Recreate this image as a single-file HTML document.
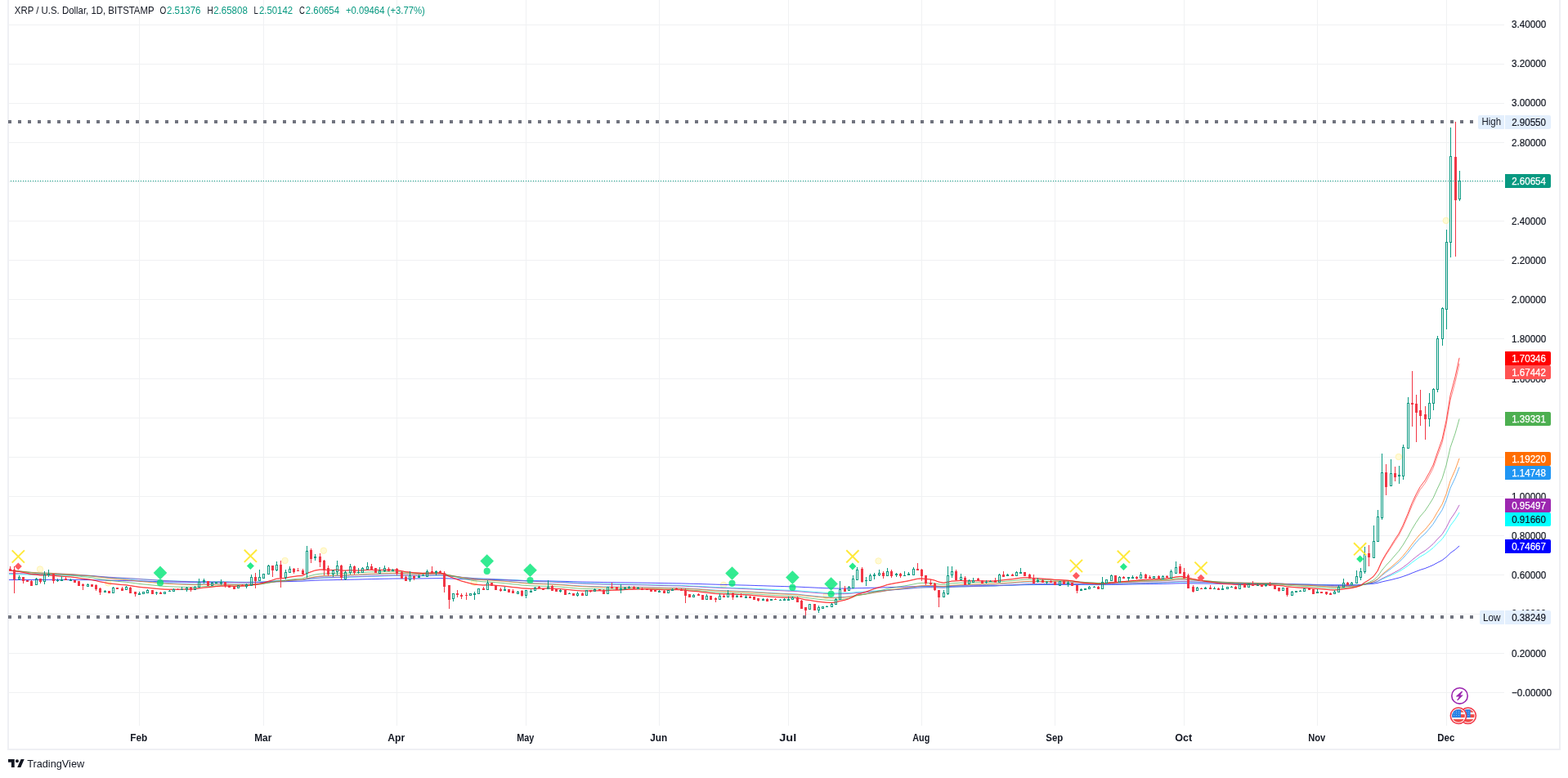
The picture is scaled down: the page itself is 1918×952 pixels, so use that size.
<!DOCTYPE html>
<html><head><meta charset="utf-8"><title>XRP / U.S. Dollar chart</title>
<style>
html,body{margin:0;padding:0;background:#fff;}
body{width:1918px;height:952px;overflow:hidden;position:relative;font-family:"Liberation Sans", Arial, sans-serif;}
.frame{position:absolute;left:9px;top:0;width:1896px;height:916px;border-left:2px solid #eff0f4;border-right:2px solid #eff0f4;border-bottom:2px solid #eff0f4;box-sizing:content-box;}
svg{position:absolute;left:0;top:0;}
svg text{font-family:"Liberation Sans", Arial, sans-serif;}
</style></head><body>
<div class="frame"></div>
<svg width="1918" height="952" viewBox="0 0 1918 952">
<defs><clipPath id="pane"><rect x="11" y="0" width="1829" height="888"/></clipPath></defs>
<g stroke="#f0f1f3" stroke-width="1" shape-rendering="crispEdges"><line x1="11" y1="30.5" x2="1840" y2="30.5"/><line x1="11" y1="78.5" x2="1840" y2="78.5"/><line x1="11" y1="126.5" x2="1840" y2="126.5"/><line x1="11" y1="174.5" x2="1840" y2="174.5"/><line x1="11" y1="222.5" x2="1840" y2="222.5"/><line x1="11" y1="270.5" x2="1840" y2="270.5"/><line x1="11" y1="318.5" x2="1840" y2="318.5"/><line x1="11" y1="366.5" x2="1840" y2="366.5"/><line x1="11" y1="414.5" x2="1840" y2="414.5"/><line x1="11" y1="463.5" x2="1840" y2="463.5"/><line x1="11" y1="511.5" x2="1840" y2="511.5"/><line x1="11" y1="559.5" x2="1840" y2="559.5"/><line x1="11" y1="607.5" x2="1840" y2="607.5"/><line x1="11" y1="655.5" x2="1840" y2="655.5"/><line x1="11" y1="703.5" x2="1840" y2="703.5"/><line x1="11" y1="751.5" x2="1840" y2="751.5"/><line x1="11" y1="799.5" x2="1840" y2="799.5"/><line x1="11" y1="847.5" x2="1840" y2="847.5"/><line x1="170.5" y1="0" x2="170.5" y2="888"/><line x1="322.5" y1="0" x2="322.5" y2="888"/><line x1="485.5" y1="0" x2="485.5" y2="888"/><line x1="643.5" y1="0" x2="643.5" y2="888"/><line x1="806.5" y1="0" x2="806.5" y2="888"/><line x1="964.5" y1="0" x2="964.5" y2="888"/><line x1="1127.5" y1="0" x2="1127.5" y2="888"/><line x1="1290.5" y1="0" x2="1290.5" y2="888"/><line x1="1448.5" y1="0" x2="1448.5" y2="888"/><line x1="1611.5" y1="0" x2="1611.5" y2="888"/><line x1="1769.5" y1="0" x2="1769.5" y2="888"/></g><g clip-path="url(#pane)"><circle cx="49" cy="696.5" r="3.7" fill="#fffad6" stroke="#fff1a8" stroke-opacity="0.8" stroke-width="1"/><circle cx="132.3" cy="713.4" r="3.7" fill="#fffad6" stroke="#fff1a8" stroke-opacity="0.8" stroke-width="1"/><circle cx="348.6" cy="686" r="3.7" fill="#fffad6" stroke="#fff1a8" stroke-opacity="0.8" stroke-width="1"/><circle cx="395.9" cy="673.8" r="3.7" fill="#fffad6" stroke="#fff1a8" stroke-opacity="0.8" stroke-width="1"/><circle cx="579.6" cy="712.9" r="3.7" fill="#fffad6" stroke="#fff1a8" stroke-opacity="0.8" stroke-width="1"/><circle cx="885" cy="715.8" r="3.7" fill="#fffad6" stroke="#fff1a8" stroke-opacity="0.8" stroke-width="1"/><circle cx="1010.6" cy="728.8" r="3.7" fill="#fffad6" stroke="#fff1a8" stroke-opacity="0.8" stroke-width="1"/><circle cx="1074.5" cy="686.4" r="3.7" fill="#fffad6" stroke="#fff1a8" stroke-opacity="0.8" stroke-width="1"/><circle cx="1710.8" cy="559" r="3.7" fill="#fffad6" stroke="#fff1a8" stroke-opacity="0.8" stroke-width="1"/><circle cx="1768.8" cy="269.9" r="3.7" fill="#fffad6" stroke="#fff1a8" stroke-opacity="0.8" stroke-width="1"/></g><g clip-path="url(#pane)" fill="none" stroke-width="1" stroke-linejoin="round" stroke-opacity="0.7"><path d="M7.10,709.63 L12.10,709.51 L17.10,709.50 L23.10,709.46 L28.10,709.46 L33.10,709.48 L38.10,709.54 L44.10,709.53 L49.10,709.54 L54.10,709.48 L59.10,709.41 L65.10,709.42 L70.10,709.42 L75.10,709.41 L80.10,709.41 L86.10,709.41 L91.10,709.43 L96.10,709.49 L101.10,709.56 L107.10,709.61 L112.10,709.68 L117.10,709.79 L122.10,709.93 L128.10,710.06 L133.10,710.21 L138.10,710.29 L143.10,710.39 L149.10,710.50 L154.10,710.58 L159.10,710.72 L165.10,710.87 L170.10,711.02 L175.10,711.15 L180.10,711.26 L186.10,711.41 L191.10,711.54 L196.10,711.69 L201.10,711.81 L207.10,711.92 L212.10,712.01 L217.10,712.10 L222.10,712.19 L228.10,712.26 L233.10,712.35 L238.10,712.40 L243.10,712.40 L249.10,712.38 L254.10,712.41 L259.10,712.42 L264.10,712.42 L270.10,712.41 L275.10,712.45 L280.10,712.50 L286.10,712.57 L291.10,712.61 L296.10,712.64 L301.10,712.67 L307.10,712.60 L312.10,712.57 L317.10,712.51 L322.10,712.41 L328.10,712.20 L333.10,712.05 L338.10,711.84 L343.10,711.78 L349.10,711.67 L354.10,711.51 L359.10,711.38 L364.10,711.25 L370.10,711.16 L375.10,710.78 L380.10,710.50 L385.10,710.21 L391.10,709.98 L396.10,709.85 L401.10,709.78 L407.10,709.66 L412.10,709.49 L417.10,709.46 L422.10,709.37 L428.10,709.21 L433.10,709.12 L438.10,709.03 L443.10,708.89 L449.10,708.73 L454.10,708.61 L459.10,708.52 L464.10,708.41 L470.10,708.28 L475.10,708.19 L480.10,708.07 L485.10,708.00 L491.10,707.99 L496.10,708.01 L501.10,707.98 L506.10,707.96 L512.10,707.93 L517.10,707.89 L522.10,707.81 L528.10,707.73 L533.10,707.64 L538.10,707.58 L543.10,707.67 L549.10,707.92 L554.10,708.10 L559.10,708.29 L564.10,708.49 L570.10,708.69 L575.10,708.87 L580.10,709.04 L585.10,709.15 L591.10,709.27 L596.10,709.31 L601.10,709.38 L606.10,709.50 L612.10,709.62 L617.10,709.74 L622.10,709.88 L627.10,710.03 L633.10,710.16 L638.10,710.34 L643.10,710.46 L649.10,710.58 L654.10,710.67 L659.10,710.75 L664.10,710.85 L670.10,710.92 L675.10,711.03 L680.10,711.15 L685.10,711.26 L691.10,711.42 L696.10,711.56 L701.10,711.72 L706.10,711.87 L712.10,712.02 L717.10,712.13 L722.10,712.24 L727.10,712.33 L733.10,712.42 L738.10,712.55 L743.10,712.61 L748.10,712.67 L754.10,712.76 L759.10,712.83 L764.10,712.89 L769.10,712.93 L775.10,713.01 L780.10,713.06 L785.10,713.14 L791.10,713.22 L796.10,713.32 L801.10,713.41 L806.10,713.51 L812.10,713.62 L817.10,713.70 L822.10,713.77 L827.10,713.85 L833.10,713.93 L838.10,714.07 L843.10,714.22 L848.10,714.36 L854.10,714.49 L859.10,714.67 L864.10,714.82 L869.10,714.99 L875.10,715.17 L880.10,715.31 L885.10,715.45 L890.10,715.56 L896.10,715.70 L901.10,715.83 L906.10,715.98 L912.10,716.12 L917.10,716.26 L922.10,716.42 L927.10,716.60 L933.10,716.76 L938.10,716.94 L943.10,717.10 L948.10,717.27 L954.10,717.43 L959.10,717.59 L964.10,717.74 L969.10,717.87 L975.10,718.05 L980.10,718.30 L985.10,718.57 L990.10,718.78 L996.10,719.05 L1001.10,719.29 L1006.10,719.52 L1011.10,719.74 L1017.10,719.93 L1022.10,720.06 L1027.10,720.08 L1033.10,720.10 L1038.10,720.08 L1043.10,719.96 L1048.10,719.73 L1054.10,719.65 L1059.10,719.54 L1064.10,719.39 L1069.10,719.23 L1075.10,719.05 L1080.10,718.89 L1085.10,718.69 L1090.10,718.55 L1096.10,718.39 L1101.10,718.25 L1106.10,718.10 L1111.10,717.94 L1117.10,717.72 L1122.10,717.52 L1127.10,717.39 L1132.10,717.35 L1138.10,717.31 L1143.10,717.35 L1148.10,717.48 L1154.10,717.56 L1159.10,717.42 L1164.10,717.24 L1169.10,717.16 L1175.10,717.05 L1180.10,717.03 L1185.10,716.97 L1190.10,716.89 L1196.10,716.82 L1201.10,716.79 L1206.10,716.74 L1211.10,716.68 L1217.10,716.63 L1222.10,716.50 L1227.10,716.38 L1232.10,716.25 L1238.10,716.13 L1243.10,715.97 L1248.10,715.82 L1253.10,715.69 L1259.10,715.61 L1264.10,715.58 L1269.10,715.53 L1275.10,715.50 L1280.10,715.46 L1285.10,715.42 L1290.10,715.42 L1296.10,715.37 L1301.10,715.36 L1306.10,715.33 L1311.10,715.34 L1317.10,715.41 L1322.10,715.47 L1327.10,715.51 L1332.10,715.53 L1338.10,715.55 L1343.10,715.59 L1348.10,715.56 L1353.10,715.50 L1359.10,715.38 L1364.10,715.33 L1369.10,715.24 L1374.10,715.16 L1380.10,715.07 L1385.10,714.98 L1390.10,714.90 L1395.10,714.78 L1401.10,714.70 L1406.10,714.63 L1411.10,714.53 L1417.10,714.46 L1422.10,714.37 L1427.10,714.29 L1432.10,714.13 L1438.10,713.93 L1443.10,713.80 L1448.10,713.74 L1453.10,713.79 L1459.10,713.88 L1464.10,713.93 L1469.10,713.99 L1474.10,714.05 L1480.10,714.11 L1485.10,714.16 L1490.10,714.24 L1495.10,714.29 L1501.10,714.33 L1506.10,714.36 L1511.10,714.42 L1516.10,714.43 L1522.10,714.46 L1527.10,714.46 L1532.10,714.48 L1538.10,714.49 L1543.10,714.51 L1548.10,714.52 L1553.10,714.54 L1559.10,714.59 L1564.10,714.66 L1569.10,714.70 L1574.10,714.83 L1580.10,714.92 L1585.10,715.00 L1590.10,715.08 L1595.10,715.13 L1601.10,715.19 L1606.10,715.29 L1611.10,715.38 L1616.10,715.47 L1622.10,715.58 L1627.10,715.69 L1632.10,715.77 L1637.10,715.79 L1643.10,715.77 L1648.10,715.76 L1653.10,715.73 L1659.10,715.63 L1664.10,715.46 L1669.10,715.09 L1674.10,714.75 L1680.10,714.22 L1685.10,713.40 L1690.10,712.06 L1695.10,710.89 L1701.10,709.58 L1706.10,708.32 L1711.10,707.05 L1716.10,705.46 L1722.10,703.35 L1727.10,701.27 L1732.10,699.30 L1737.10,697.39 L1743.10,695.54 L1748.10,693.53 L1753.10,691.37 L1758.10,688.61 L1764.10,685.50 L1769.10,681.62 L1774.10,676.74 L1780.10,672.44 L1785.10,667.94" stroke="#0000ff"/><path d="M7.10,702.66 L12.10,702.57 L17.10,702.67 L23.10,702.74 L28.10,702.88 L33.10,703.04 L38.10,703.29 L44.10,703.38 L49.10,703.54 L54.10,703.54 L59.10,703.50 L65.10,703.64 L70.10,703.76 L75.10,703.86 L80.10,703.97 L86.10,704.07 L91.10,704.22 L96.10,704.44 L101.10,704.68 L107.10,704.88 L112.10,705.11 L117.10,705.42 L122.10,705.78 L128.10,706.13 L133.10,706.49 L138.10,706.74 L143.10,707.00 L149.10,707.29 L154.10,707.50 L159.10,707.85 L165.10,708.21 L170.10,708.56 L175.10,708.87 L180.10,709.13 L186.10,709.47 L191.10,709.77 L196.10,710.09 L201.10,710.37 L207.10,710.61 L212.10,710.82 L217.10,711.03 L222.10,711.22 L228.10,711.38 L233.10,711.57 L238.10,711.70 L243.10,711.72 L249.10,711.69 L254.10,711.77 L259.10,711.79 L264.10,711.79 L270.10,711.80 L275.10,711.89 L280.10,712.00 L286.10,712.15 L291.10,712.23 L296.10,712.31 L301.10,712.36 L307.10,712.24 L312.10,712.18 L317.10,712.07 L322.10,711.87 L328.10,711.48 L333.10,711.19 L338.10,710.79 L343.10,710.69 L349.10,710.48 L354.10,710.20 L359.10,709.97 L364.10,709.74 L370.10,709.58 L375.10,708.87 L380.10,708.35 L385.10,707.81 L391.10,707.40 L396.10,707.19 L401.10,707.10 L407.10,706.92 L412.10,706.63 L417.10,706.62 L422.10,706.50 L428.10,706.24 L433.10,706.12 L438.10,705.99 L443.10,705.78 L449.10,705.53 L454.10,705.34 L459.10,705.25 L464.10,705.09 L470.10,704.90 L475.10,704.77 L480.10,704.61 L485.10,704.54 L491.10,704.59 L496.10,704.70 L501.10,704.69 L506.10,704.73 L512.10,704.74 L517.10,704.72 L522.10,704.61 L528.10,704.51 L533.10,704.41 L538.10,704.34 L543.10,704.59 L549.10,705.14 L554.10,705.55 L559.10,705.98 L564.10,706.44 L570.10,706.87 L575.10,707.26 L580.10,707.64 L585.10,707.89 L591.10,708.15 L596.10,708.26 L601.10,708.41 L606.10,708.67 L612.10,708.93 L617.10,709.17 L622.10,709.46 L627.10,709.77 L633.10,710.04 L638.10,710.39 L643.10,710.63 L649.10,710.87 L654.10,711.04 L659.10,711.20 L664.10,711.39 L670.10,711.51 L675.10,711.71 L680.10,711.95 L685.10,712.15 L691.10,712.45 L696.10,712.72 L701.10,713.01 L706.10,713.27 L712.10,713.56 L717.10,713.73 L722.10,713.92 L727.10,714.06 L733.10,714.22 L738.10,714.45 L743.10,714.52 L748.10,714.60 L754.10,714.74 L759.10,714.84 L764.10,714.92 L769.10,714.97 L775.10,715.08 L780.10,715.15 L785.10,715.26 L791.10,715.38 L796.10,715.53 L801.10,715.67 L806.10,715.82 L812.10,715.99 L817.10,716.11 L822.10,716.21 L827.10,716.30 L833.10,716.42 L838.10,716.65 L843.10,716.90 L848.10,717.12 L854.10,717.33 L859.10,717.63 L864.10,717.86 L869.10,718.15 L875.10,718.44 L880.10,718.66 L885.10,718.87 L890.10,719.02 L896.10,719.23 L901.10,719.42 L906.10,719.64 L912.10,719.84 L917.10,720.06 L922.10,720.31 L927.10,720.58 L933.10,720.82 L938.10,721.10 L943.10,721.34 L948.10,721.58 L954.10,721.82 L959.10,722.04 L964.10,722.26 L969.10,722.43 L975.10,722.69 L980.10,723.10 L985.10,723.55 L990.10,723.86 L996.10,724.31 L1001.10,724.68 L1006.10,725.03 L1011.10,725.36 L1017.10,725.63 L1022.10,725.78 L1027.10,725.69 L1033.10,725.63 L1038.10,725.48 L1043.10,725.14 L1048.10,724.58 L1054.10,724.31 L1059.10,724.01 L1064.10,723.62 L1069.10,723.21 L1075.10,722.77 L1080.10,722.39 L1085.10,721.92 L1090.10,721.57 L1096.10,721.19 L1101.10,720.86 L1106.10,720.52 L1111.10,720.15 L1117.10,719.67 L1122.10,719.23 L1127.10,718.94 L1132.10,718.83 L1138.10,718.73 L1143.10,718.78 L1148.10,719.01 L1154.10,719.13 L1159.10,718.82 L1164.10,718.44 L1169.10,718.25 L1175.10,718.01 L1180.10,717.96 L1185.10,717.81 L1190.10,717.64 L1196.10,717.49 L1201.10,717.41 L1206.10,717.29 L1211.10,717.17 L1217.10,717.06 L1222.10,716.78 L1227.10,716.55 L1232.10,716.29 L1238.10,716.04 L1243.10,715.73 L1248.10,715.43 L1253.10,715.19 L1259.10,715.03 L1264.10,714.99 L1269.10,714.90 L1275.10,714.85 L1280.10,714.78 L1285.10,714.72 L1290.10,714.73 L1296.10,714.65 L1301.10,714.63 L1306.10,714.60 L1311.10,714.63 L1317.10,714.79 L1322.10,714.91 L1327.10,715.01 L1332.10,715.06 L1338.10,715.11 L1343.10,715.20 L1348.10,715.15 L1353.10,715.03 L1359.10,714.80 L1364.10,714.72 L1369.10,714.54 L1374.10,714.39 L1380.10,714.23 L1385.10,714.07 L1390.10,713.93 L1395.10,713.72 L1401.10,713.58 L1406.10,713.45 L1411.10,713.29 L1417.10,713.17 L1422.10,713.01 L1427.10,712.87 L1432.10,712.60 L1438.10,712.22 L1443.10,712.00 L1448.10,711.91 L1453.10,712.05 L1459.10,712.27 L1464.10,712.40 L1469.10,712.55 L1474.10,712.69 L1480.10,712.84 L1485.10,712.97 L1490.10,713.14 L1495.10,713.27 L1501.10,713.37 L1506.10,713.45 L1511.10,713.58 L1516.10,713.61 L1522.10,713.70 L1527.10,713.71 L1532.10,713.77 L1538.10,713.81 L1543.10,713.86 L1548.10,713.89 L1553.10,713.93 L1559.10,714.04 L1564.10,714.20 L1569.10,714.29 L1574.10,714.55 L1580.10,714.74 L1585.10,714.90 L1590.10,715.06 L1595.10,715.16 L1601.10,715.28 L1606.10,715.48 L1611.10,715.65 L1616.10,715.83 L1622.10,716.03 L1627.10,716.25 L1632.10,716.41 L1637.10,716.43 L1643.10,716.37 L1648.10,716.34 L1653.10,716.27 L1659.10,716.05 L1664.10,715.71 L1669.10,714.97 L1674.10,714.30 L1680.10,713.26 L1685.10,711.65 L1690.10,709.01 L1695.10,706.74 L1701.10,704.22 L1706.10,701.81 L1711.10,699.42 L1716.10,696.41 L1722.10,692.38 L1727.10,688.45 L1732.10,684.79 L1737.10,681.28 L1743.10,677.92 L1748.10,674.27 L1753.10,670.34 L1758.10,665.26 L1764.10,659.55 L1769.10,652.34 L1774.10,643.21 L1780.10,635.30 L1785.10,627.10" stroke="#00ffff"/><path d="M7.10,701.46 L12.10,701.38 L17.10,701.53 L23.10,701.63 L28.10,701.80 L33.10,702.02 L38.10,702.32 L44.10,702.44 L49.10,702.64 L54.10,702.65 L59.10,702.64 L65.10,702.81 L70.10,702.96 L75.10,703.09 L80.10,703.23 L86.10,703.36 L91.10,703.55 L96.10,703.81 L101.10,704.10 L107.10,704.33 L112.10,704.60 L117.10,704.96 L122.10,705.38 L128.10,705.77 L133.10,706.19 L138.10,706.47 L143.10,706.77 L149.10,707.10 L154.10,707.35 L159.10,707.73 L165.10,708.15 L170.10,708.53 L175.10,708.88 L180.10,709.18 L186.10,709.56 L191.10,709.90 L196.10,710.25 L201.10,710.56 L207.10,710.83 L212.10,711.06 L217.10,711.29 L222.10,711.49 L228.10,711.66 L233.10,711.88 L238.10,712.01 L243.10,712.02 L249.10,711.99 L254.10,712.07 L259.10,712.09 L264.10,712.08 L270.10,712.08 L275.10,712.18 L280.10,712.30 L286.10,712.46 L291.10,712.54 L296.10,712.62 L301.10,712.67 L307.10,712.53 L312.10,712.46 L317.10,712.32 L322.10,712.10 L328.10,711.66 L333.10,711.32 L338.10,710.88 L343.10,710.76 L349.10,710.53 L354.10,710.21 L359.10,709.95 L364.10,709.69 L370.10,709.51 L375.10,708.71 L380.10,708.14 L385.10,707.53 L391.10,707.08 L396.10,706.86 L401.10,706.76 L407.10,706.56 L412.10,706.25 L417.10,706.25 L422.10,706.12 L428.10,705.83 L433.10,705.71 L438.10,705.58 L443.10,705.34 L449.10,705.07 L454.10,704.88 L459.10,704.78 L464.10,704.62 L470.10,704.41 L475.10,704.28 L480.10,704.11 L485.10,704.04 L491.10,704.11 L496.10,704.24 L501.10,704.25 L506.10,704.30 L512.10,704.31 L517.10,704.30 L522.10,704.18 L528.10,704.09 L533.10,703.98 L538.10,703.92 L543.10,704.20 L549.10,704.83 L554.10,705.30 L559.10,705.79 L564.10,706.30 L570.10,706.80 L575.10,707.23 L580.10,707.66 L585.10,707.93 L591.10,708.23 L596.10,708.35 L601.10,708.52 L606.10,708.81 L612.10,709.09 L617.10,709.36 L622.10,709.68 L627.10,710.03 L633.10,710.33 L638.10,710.71 L643.10,710.97 L649.10,711.24 L654.10,711.41 L659.10,711.59 L664.10,711.79 L670.10,711.92 L675.10,712.14 L680.10,712.39 L685.10,712.61 L691.10,712.93 L696.10,713.22 L701.10,713.54 L706.10,713.82 L712.10,714.13 L717.10,714.31 L722.10,714.51 L727.10,714.66 L733.10,714.83 L738.10,715.06 L743.10,715.14 L748.10,715.21 L754.10,715.35 L759.10,715.45 L764.10,715.52 L769.10,715.57 L775.10,715.67 L780.10,715.74 L785.10,715.85 L791.10,715.98 L796.10,716.13 L801.10,716.28 L806.10,716.43 L812.10,716.61 L817.10,716.73 L822.10,716.82 L827.10,716.92 L833.10,717.04 L838.10,717.27 L843.10,717.55 L848.10,717.77 L854.10,718.00 L859.10,718.32 L864.10,718.56 L869.10,718.88 L875.10,719.19 L880.10,719.41 L885.10,719.63 L890.10,719.78 L896.10,720.00 L901.10,720.20 L906.10,720.43 L912.10,720.64 L917.10,720.86 L922.10,721.12 L927.10,721.41 L933.10,721.67 L938.10,721.95 L943.10,722.21 L948.10,722.46 L954.10,722.71 L959.10,722.94 L964.10,723.16 L969.10,723.34 L975.10,723.61 L980.10,724.05 L985.10,724.53 L990.10,724.86 L996.10,725.34 L1001.10,725.73 L1006.10,726.10 L1011.10,726.45 L1017.10,726.73 L1022.10,726.86 L1027.10,726.74 L1033.10,726.66 L1038.10,726.46 L1043.10,726.06 L1048.10,725.41 L1054.10,725.08 L1059.10,724.74 L1064.10,724.28 L1069.10,723.81 L1075.10,723.30 L1080.10,722.86 L1085.10,722.33 L1090.10,721.92 L1096.10,721.48 L1101.10,721.11 L1106.10,720.72 L1111.10,720.30 L1117.10,719.76 L1122.10,719.27 L1127.10,718.94 L1132.10,718.81 L1138.10,718.70 L1143.10,718.76 L1148.10,719.02 L1154.10,719.15 L1159.10,718.80 L1164.10,718.37 L1169.10,718.17 L1175.10,717.90 L1180.10,717.84 L1185.10,717.68 L1190.10,717.49 L1196.10,717.33 L1201.10,717.24 L1206.10,717.11 L1211.10,716.97 L1217.10,716.86 L1222.10,716.55 L1227.10,716.29 L1232.10,716.01 L1238.10,715.74 L1243.10,715.40 L1248.10,715.06 L1253.10,714.81 L1259.10,714.63 L1264.10,714.60 L1269.10,714.50 L1275.10,714.45 L1280.10,714.39 L1285.10,714.33 L1290.10,714.35 L1296.10,714.27 L1301.10,714.26 L1306.10,714.23 L1311.10,714.27 L1317.10,714.46 L1322.10,714.60 L1327.10,714.73 L1332.10,714.79 L1338.10,714.85 L1343.10,714.95 L1348.10,714.90 L1353.10,714.77 L1359.10,714.52 L1364.10,714.44 L1369.10,714.24 L1374.10,714.08 L1380.10,713.90 L1385.10,713.73 L1390.10,713.58 L1395.10,713.35 L1401.10,713.21 L1406.10,713.07 L1411.10,712.90 L1417.10,712.78 L1422.10,712.60 L1427.10,712.46 L1432.10,712.16 L1438.10,711.74 L1443.10,711.51 L1448.10,711.42 L1453.10,711.59 L1459.10,711.84 L1464.10,711.99 L1469.10,712.18 L1474.10,712.34 L1480.10,712.51 L1485.10,712.67 L1490.10,712.86 L1495.10,713.02 L1501.10,713.14 L1506.10,713.24 L1511.10,713.39 L1516.10,713.42 L1522.10,713.52 L1527.10,713.54 L1532.10,713.61 L1538.10,713.66 L1543.10,713.72 L1548.10,713.76 L1553.10,713.80 L1559.10,713.93 L1564.10,714.11 L1569.10,714.22 L1574.10,714.51 L1580.10,714.72 L1585.10,714.91 L1590.10,715.08 L1595.10,715.19 L1601.10,715.32 L1606.10,715.55 L1611.10,715.74 L1616.10,715.94 L1622.10,716.17 L1627.10,716.40 L1632.10,716.58 L1637.10,716.60 L1643.10,716.53 L1648.10,716.49 L1653.10,716.41 L1659.10,716.17 L1664.10,715.78 L1669.10,714.94 L1674.10,714.20 L1680.10,713.02 L1685.10,711.23 L1690.10,708.27 L1695.10,705.75 L1701.10,702.93 L1706.10,700.26 L1711.10,697.61 L1716.10,694.27 L1722.10,689.80 L1727.10,685.45 L1732.10,681.41 L1737.10,677.55 L1743.10,673.86 L1748.10,669.85 L1753.10,665.54 L1758.10,659.95 L1764.10,653.66 L1769.10,645.70 L1774.10,635.60 L1780.10,626.89 L1785.10,617.87" stroke="#9c27b0"/><path d="M7.10,698.45 L12.10,698.44 L17.10,698.78 L23.10,699.04 L28.10,699.41 L33.10,699.84 L38.10,700.40 L44.10,700.67 L49.10,701.05 L54.10,701.13 L59.10,701.16 L65.10,701.49 L70.10,701.78 L75.10,702.03 L80.10,702.29 L86.10,702.54 L91.10,702.86 L96.10,703.32 L101.10,703.79 L107.10,704.17 L112.10,704.62 L117.10,705.19 L122.10,705.86 L128.10,706.47 L133.10,707.12 L138.10,707.54 L143.10,707.98 L149.10,708.48 L154.10,708.82 L159.10,709.38 L165.10,709.99 L170.10,710.54 L175.10,711.04 L180.10,711.43 L186.10,711.97 L191.10,712.42 L196.10,712.90 L201.10,713.30 L207.10,713.64 L212.10,713.90 L217.10,714.17 L222.10,714.40 L228.10,714.57 L233.10,714.81 L238.10,714.92 L243.10,714.84 L249.10,714.68 L254.10,714.71 L259.10,714.64 L264.10,714.55 L270.10,714.46 L275.10,714.53 L280.10,714.64 L286.10,714.82 L291.10,714.86 L296.10,714.90 L301.10,714.91 L307.10,714.60 L312.10,714.42 L317.10,714.12 L322.10,713.71 L328.10,712.93 L333.10,712.35 L338.10,711.59 L343.10,711.37 L349.10,710.98 L354.10,710.45 L359.10,710.03 L364.10,709.61 L370.10,709.33 L375.10,708.05 L380.10,707.15 L385.10,706.21 L391.10,705.53 L396.10,705.23 L401.10,705.13 L407.10,704.87 L412.10,704.43 L417.10,704.49 L422.10,704.35 L428.10,703.95 L433.10,703.83 L438.10,703.67 L443.10,703.36 L449.10,703.01 L454.10,702.76 L459.10,702.68 L464.10,702.49 L470.10,702.24 L475.10,702.10 L480.10,701.90 L485.10,701.88 L491.10,702.06 L496.10,702.35 L501.10,702.42 L506.10,702.57 L512.10,702.66 L517.10,702.70 L522.10,702.57 L528.10,702.47 L533.10,702.35 L538.10,702.31 L543.10,702.83 L549.10,703.89 L554.10,704.68 L559.10,705.48 L564.10,706.32 L570.10,707.11 L575.10,707.80 L580.10,708.46 L585.10,708.88 L591.10,709.32 L596.10,709.47 L601.10,709.71 L606.10,710.13 L612.10,710.54 L617.10,710.92 L622.10,711.38 L627.10,711.87 L633.10,712.29 L638.10,712.84 L643.10,713.18 L649.10,713.53 L654.10,713.73 L659.10,713.93 L664.10,714.17 L670.10,714.29 L675.10,714.56 L680.10,714.87 L685.10,715.14 L691.10,715.57 L696.10,715.94 L701.10,716.36 L706.10,716.71 L712.10,717.10 L717.10,717.28 L722.10,717.50 L727.10,717.63 L733.10,717.79 L738.10,718.07 L743.10,718.08 L748.10,718.10 L754.10,718.21 L759.10,718.27 L764.10,718.29 L769.10,718.26 L775.10,718.34 L780.10,718.35 L785.10,718.44 L791.10,718.54 L796.10,718.70 L801.10,718.85 L806.10,718.99 L812.10,719.19 L817.10,719.29 L822.10,719.35 L827.10,719.41 L833.10,719.52 L838.10,719.81 L843.10,720.16 L848.10,720.43 L854.10,720.69 L859.10,721.12 L864.10,721.41 L869.10,721.81 L875.10,722.20 L880.10,722.45 L885.10,722.70 L890.10,722.83 L896.10,723.08 L901.10,723.28 L906.10,723.54 L912.10,723.77 L917.10,724.02 L922.10,724.32 L927.10,724.67 L933.10,724.96 L938.10,725.31 L943.10,725.60 L948.10,725.88 L954.10,726.17 L959.10,726.41 L964.10,726.64 L969.10,726.80 L975.10,727.11 L980.10,727.69 L985.10,728.33 L990.10,728.72 L996.10,729.36 L1001.10,729.85 L1006.10,730.29 L1011.10,730.71 L1017.10,731.00 L1022.10,731.07 L1027.10,730.72 L1033.10,730.44 L1038.10,729.99 L1043.10,729.22 L1048.10,728.06 L1054.10,727.44 L1059.10,726.80 L1064.10,725.99 L1069.10,725.18 L1075.10,724.32 L1080.10,723.58 L1085.10,722.68 L1090.10,722.02 L1096.10,721.32 L1101.10,720.72 L1106.10,720.10 L1111.10,719.46 L1117.10,718.62 L1122.10,717.86 L1127.10,717.38 L1132.10,717.24 L1138.10,717.11 L1143.10,717.26 L1148.10,717.73 L1154.10,717.99 L1159.10,717.48 L1164.10,716.83 L1169.10,716.56 L1175.10,716.18 L1180.10,716.16 L1185.10,715.95 L1190.10,715.72 L1196.10,715.51 L1201.10,715.43 L1206.10,715.29 L1211.10,715.14 L1217.10,715.01 L1222.10,714.59 L1227.10,714.25 L1232.10,713.86 L1238.10,713.51 L1243.10,713.03 L1248.10,712.58 L1253.10,712.26 L1259.10,712.07 L1264.10,712.12 L1269.10,712.04 L1275.10,712.05 L1280.10,712.04 L1285.10,712.02 L1290.10,712.14 L1296.10,712.09 L1301.10,712.14 L1306.10,712.17 L1311.10,712.32 L1317.10,712.68 L1322.10,712.97 L1327.10,713.24 L1332.10,713.39 L1338.10,713.54 L1343.10,713.75 L1348.10,713.70 L1353.10,713.54 L1359.10,713.18 L1364.10,713.10 L1369.10,712.84 L1374.10,712.63 L1380.10,712.39 L1385.10,712.17 L1390.10,711.98 L1395.10,711.67 L1401.10,711.50 L1406.10,711.34 L1411.10,711.13 L1417.10,710.99 L1422.10,710.78 L1427.10,710.61 L1432.10,710.19 L1438.10,709.60 L1443.10,709.30 L1448.10,709.23 L1453.10,709.58 L1459.10,710.06 L1464.10,710.37 L1469.10,710.73 L1474.10,711.03 L1480.10,711.36 L1485.10,711.66 L1490.10,712.00 L1495.10,712.29 L1501.10,712.50 L1506.10,712.68 L1511.10,712.94 L1516.10,713.02 L1522.10,713.19 L1527.10,713.24 L1532.10,713.35 L1538.10,713.44 L1543.10,713.55 L1548.10,713.62 L1553.10,713.69 L1559.10,713.91 L1564.10,714.19 L1569.10,714.37 L1574.10,714.82 L1580.10,715.15 L1585.10,715.44 L1590.10,715.69 L1595.10,715.85 L1601.10,716.04 L1606.10,716.38 L1611.10,716.65 L1616.10,716.94 L1622.10,717.28 L1627.10,717.62 L1632.10,717.85 L1637.10,717.85 L1643.10,717.69 L1648.10,717.58 L1653.10,717.41 L1659.10,716.98 L1664.10,716.33 L1669.10,714.97 L1674.10,713.77 L1680.10,711.90 L1685.10,709.05 L1690.10,704.38 L1695.10,700.46 L1701.10,696.13 L1706.10,692.08 L1711.10,688.11 L1716.10,683.08 L1722.10,676.30 L1727.10,669.79 L1732.10,663.85 L1737.10,658.27 L1743.10,653.03 L1748.10,647.33 L1753.10,641.21 L1758.10,633.09 L1764.10,623.94 L1769.10,612.21 L1774.10,597.18 L1780.10,584.55 L1785.10,571.57" stroke="#2196f3"/><path d="M7.10,698.21 L12.10,698.21 L17.10,698.59 L23.10,698.88 L28.10,699.30 L33.10,699.77 L38.10,700.39 L44.10,700.69 L49.10,701.10 L54.10,701.19 L59.10,701.22 L65.10,701.58 L70.10,701.89 L75.10,702.17 L80.10,702.45 L86.10,702.71 L91.10,703.06 L96.10,703.55 L101.10,704.06 L107.10,704.47 L112.10,704.95 L117.10,705.56 L122.10,706.28 L128.10,706.94 L133.10,707.63 L138.10,708.07 L143.10,708.54 L149.10,709.06 L154.10,709.41 L159.10,710.01 L165.10,710.65 L170.10,711.23 L175.10,711.75 L180.10,712.16 L186.10,712.71 L191.10,713.18 L196.10,713.68 L201.10,714.09 L207.10,714.43 L212.10,714.68 L217.10,714.95 L222.10,715.17 L228.10,715.33 L233.10,715.56 L238.10,715.66 L243.10,715.53 L249.10,715.33 L254.10,715.34 L259.10,715.24 L264.10,715.12 L270.10,715.00 L275.10,715.05 L280.10,715.15 L286.10,715.33 L291.10,715.35 L296.10,715.38 L301.10,715.37 L307.10,715.01 L312.10,714.80 L317.10,714.46 L322.10,713.99 L328.10,713.12 L333.10,712.48 L338.10,711.64 L343.10,711.40 L349.10,710.97 L354.10,710.39 L359.10,709.93 L364.10,709.47 L370.10,709.17 L375.10,707.77 L380.10,706.79 L385.10,705.78 L391.10,705.04 L396.10,704.73 L401.10,704.64 L407.10,704.38 L412.10,703.91 L417.10,704.00 L422.10,703.86 L428.10,703.45 L433.10,703.33 L438.10,703.18 L443.10,702.86 L449.10,702.49 L454.10,702.24 L459.10,702.17 L464.10,701.98 L470.10,701.73 L475.10,701.59 L480.10,701.40 L485.10,701.39 L491.10,701.61 L496.10,701.94 L501.10,702.04 L506.10,702.22 L512.10,702.33 L517.10,702.38 L522.10,702.25 L528.10,702.16 L533.10,702.04 L538.10,702.01 L543.10,702.58 L549.10,703.76 L554.10,704.63 L559.10,705.52 L564.10,706.44 L570.10,707.30 L575.10,708.05 L580.10,708.77 L585.10,709.21 L591.10,709.69 L596.10,709.83 L601.10,710.09 L606.10,710.53 L612.10,710.97 L617.10,711.36 L622.10,711.85 L627.10,712.37 L633.10,712.81 L638.10,713.39 L643.10,713.75 L649.10,714.11 L654.10,714.31 L659.10,714.50 L664.10,714.75 L670.10,714.86 L675.10,715.12 L680.10,715.45 L685.10,715.73 L691.10,716.17 L696.10,716.55 L701.10,716.99 L706.10,717.35 L712.10,717.75 L717.10,717.92 L722.10,718.14 L727.10,718.26 L733.10,718.41 L738.10,718.69 L743.10,718.68 L748.10,718.67 L754.10,718.78 L759.10,718.82 L764.10,718.82 L769.10,718.77 L775.10,718.83 L780.10,718.83 L785.10,718.90 L791.10,719.00 L796.10,719.15 L801.10,719.30 L806.10,719.44 L812.10,719.64 L817.10,719.74 L822.10,719.78 L827.10,719.83 L833.10,719.94 L838.10,720.24 L843.10,720.61 L848.10,720.88 L854.10,721.15 L859.10,721.60 L864.10,721.90 L869.10,722.32 L875.10,722.73 L880.10,722.99 L885.10,723.24 L890.10,723.36 L896.10,723.61 L901.10,723.82 L906.10,724.08 L912.10,724.31 L917.10,724.56 L922.10,724.88 L927.10,725.23 L933.10,725.53 L938.10,725.89 L943.10,726.19 L948.10,726.47 L954.10,726.76 L959.10,727.01 L964.10,727.24 L969.10,727.39 L975.10,727.70 L980.10,728.32 L985.10,729.00 L990.10,729.40 L996.10,730.07 L1001.10,730.59 L1006.10,731.04 L1011.10,731.47 L1017.10,731.76 L1022.10,731.81 L1027.10,731.39 L1033.10,731.06 L1038.10,730.55 L1043.10,729.67 L1048.10,728.38 L1054.10,727.69 L1059.10,726.98 L1064.10,726.08 L1069.10,725.18 L1075.10,724.24 L1080.10,723.43 L1085.10,722.46 L1090.10,721.73 L1096.10,720.97 L1101.10,720.33 L1106.10,719.67 L1111.10,718.98 L1117.10,718.08 L1122.10,717.27 L1127.10,716.77 L1132.10,716.63 L1138.10,716.51 L1143.10,716.70 L1148.10,717.24 L1154.10,717.55 L1159.10,717.00 L1164.10,716.31 L1169.10,716.03 L1175.10,715.64 L1180.10,715.63 L1185.10,715.42 L1190.10,715.19 L1196.10,714.98 L1201.10,714.91 L1206.10,714.78 L1211.10,714.64 L1217.10,714.52 L1222.10,714.07 L1227.10,713.71 L1232.10,713.31 L1238.10,712.94 L1243.10,712.45 L1248.10,711.97 L1253.10,711.64 L1259.10,711.46 L1264.10,711.53 L1269.10,711.47 L1275.10,711.51 L1280.10,711.51 L1285.10,711.52 L1290.10,711.67 L1296.10,711.63 L1301.10,711.71 L1306.10,711.76 L1311.10,711.93 L1317.10,712.35 L1322.10,712.68 L1327.10,712.98 L1332.10,713.16 L1338.10,713.33 L1343.10,713.57 L1348.10,713.53 L1353.10,713.36 L1359.10,712.97 L1364.10,712.89 L1369.10,712.61 L1374.10,712.39 L1380.10,712.14 L1385.10,711.90 L1390.10,711.71 L1395.10,711.38 L1401.10,711.20 L1406.10,711.04 L1411.10,710.81 L1417.10,710.68 L1422.10,710.45 L1427.10,710.28 L1432.10,709.84 L1438.10,709.20 L1443.10,708.88 L1448.10,708.82 L1453.10,709.23 L1459.10,709.77 L1464.10,710.12 L1469.10,710.52 L1474.10,710.86 L1480.10,711.24 L1485.10,711.56 L1490.10,711.95 L1495.10,712.26 L1501.10,712.50 L1506.10,712.69 L1511.10,712.98 L1516.10,713.06 L1522.10,713.25 L1527.10,713.30 L1532.10,713.42 L1538.10,713.51 L1543.10,713.63 L1548.10,713.70 L1553.10,713.79 L1559.10,714.01 L1564.10,714.32 L1569.10,714.51 L1574.10,715.01 L1580.10,715.36 L1585.10,715.66 L1590.10,715.94 L1595.10,716.10 L1601.10,716.30 L1606.10,716.66 L1611.10,716.95 L1616.10,717.25 L1622.10,717.61 L1627.10,717.97 L1632.10,718.22 L1637.10,718.19 L1643.10,718.01 L1648.10,717.87 L1653.10,717.68 L1659.10,717.20 L1664.10,716.48 L1669.10,714.97 L1674.10,713.65 L1680.10,711.61 L1685.10,708.49 L1690.10,703.39 L1695.10,699.12 L1701.10,694.42 L1706.10,690.04 L1711.10,685.75 L1716.10,680.33 L1722.10,672.99 L1727.10,665.97 L1732.10,659.60 L1737.10,653.64 L1743.10,648.07 L1748.10,642.00 L1753.10,635.49 L1758.10,626.80 L1764.10,617.00 L1769.10,604.39 L1774.10,588.19 L1780.10,574.68 L1785.10,560.81" stroke="#ff6d00"/><path d="M7.10,697.97 L12.10,697.98 L17.10,698.55 L23.10,698.97 L28.10,699.58 L33.10,700.25 L38.10,701.12 L44.10,701.52 L49.10,702.07 L54.10,702.14 L59.10,702.14 L65.10,702.61 L70.10,703.00 L75.10,703.34 L80.10,703.68 L86.10,703.99 L91.10,704.44 L96.10,705.07 L101.10,705.72 L107.10,706.23 L112.10,706.83 L117.10,707.61 L122.10,708.54 L128.10,709.37 L133.10,710.24 L138.10,710.73 L143.10,711.26 L149.10,711.86 L154.10,712.21 L159.10,712.93 L165.10,713.70 L170.10,714.37 L175.10,714.94 L180.10,715.35 L186.10,715.98 L191.10,716.48 L196.10,717.01 L201.10,717.43 L207.10,717.72 L212.10,717.91 L217.10,718.11 L222.10,718.25 L228.10,718.31 L233.10,718.48 L238.10,718.45 L243.10,718.11 L249.10,717.67 L254.10,717.54 L259.10,717.28 L264.10,716.98 L270.10,716.70 L275.10,716.68 L280.10,716.73 L286.10,716.90 L291.10,716.84 L296.10,716.80 L301.10,716.70 L307.10,716.10 L312.10,715.73 L317.10,715.19 L322.10,714.46 L328.10,713.17 L333.10,712.22 L338.10,711.02 L343.10,710.71 L349.10,710.12 L354.10,709.32 L359.10,708.72 L364.10,708.12 L370.10,707.75 L375.10,705.79 L380.10,704.48 L385.10,703.14 L391.10,702.21 L396.10,701.92 L401.10,701.96 L407.10,701.72 L412.10,701.19 L417.10,701.48 L422.10,701.42 L428.10,700.96 L433.10,700.92 L438.10,700.85 L443.10,700.51 L449.10,700.10 L454.10,699.88 L459.10,699.91 L464.10,699.77 L470.10,699.52 L475.10,699.45 L480.10,699.29 L485.10,699.40 L491.10,699.84 L496.10,700.42 L501.10,700.65 L506.10,700.99 L512.10,701.22 L517.10,701.36 L522.10,701.23 L528.10,701.16 L533.10,701.04 L538.10,701.05 L543.10,701.94 L549.10,703.70 L554.10,704.97 L559.10,706.24 L564.10,707.53 L570.10,708.73 L575.10,709.74 L580.10,710.69 L585.10,711.23 L591.10,711.81 L596.10,711.90 L601.10,712.15 L606.10,712.67 L612.10,713.19 L617.10,713.64 L622.10,714.23 L627.10,714.85 L633.10,715.35 L638.10,716.05 L643.10,716.42 L649.10,716.79 L654.10,716.93 L659.10,717.06 L664.10,717.27 L670.10,717.28 L675.10,717.53 L680.10,717.87 L685.10,718.13 L691.10,718.65 L696.10,719.06 L701.10,719.55 L706.10,719.93 L712.10,720.37 L717.10,720.47 L722.10,720.64 L727.10,720.68 L733.10,720.76 L738.10,721.03 L743.10,720.87 L748.10,720.74 L754.10,720.77 L759.10,720.73 L764.10,720.61 L769.10,720.44 L775.10,720.43 L780.10,720.34 L785.10,720.36 L791.10,720.42 L796.10,720.56 L801.10,720.69 L806.10,720.82 L812.10,721.03 L817.10,721.09 L822.10,721.08 L827.10,721.08 L833.10,721.16 L838.10,721.53 L843.10,722.00 L848.10,722.32 L854.10,722.63 L859.10,723.20 L864.10,723.54 L869.10,724.06 L875.10,724.56 L880.10,724.83 L885.10,725.10 L890.10,725.17 L896.10,725.42 L901.10,725.62 L906.10,725.90 L912.10,726.13 L917.10,726.39 L922.10,726.75 L927.10,727.16 L933.10,727.49 L938.10,727.90 L943.10,728.22 L948.10,728.51 L954.10,728.82 L959.10,729.06 L964.10,729.28 L969.10,729.38 L975.10,729.73 L980.10,730.51 L985.10,731.38 L990.10,731.83 L996.10,732.67 L1001.10,733.26 L1006.10,733.78 L1011.10,734.24 L1017.10,734.50 L1022.10,734.42 L1027.10,733.67 L1033.10,733.05 L1038.10,732.19 L1043.10,730.82 L1048.10,728.88 L1054.10,727.85 L1059.10,726.80 L1064.10,725.49 L1069.10,724.22 L1075.10,722.90 L1080.10,721.80 L1085.10,720.47 L1090.10,719.53 L1096.10,718.55 L1101.10,717.75 L1106.10,716.94 L1111.10,716.09 L1117.10,714.94 L1122.10,713.94 L1127.10,713.40 L1132.10,713.39 L1138.10,713.41 L1143.10,713.86 L1148.10,714.81 L1154.10,715.39 L1159.10,714.72 L1164.10,713.84 L1169.10,713.57 L1175.10,713.15 L1180.10,713.27 L1185.10,713.10 L1190.10,712.90 L1196.10,712.73 L1201.10,712.76 L1206.10,712.69 L1211.10,712.60 L1217.10,712.54 L1222.10,712.01 L1227.10,711.60 L1232.10,711.13 L1238.10,710.72 L1243.10,710.13 L1248.10,709.57 L1253.10,709.23 L1259.10,709.10 L1264.10,709.34 L1269.10,709.38 L1275.10,709.55 L1280.10,709.67 L1285.10,709.78 L1290.10,710.10 L1296.10,710.14 L1301.10,710.33 L1306.10,710.48 L1311.10,710.81 L1317.10,711.48 L1322.10,712.01 L1327.10,712.49 L1332.10,712.78 L1338.10,713.05 L1343.10,713.42 L1348.10,713.36 L1353.10,713.12 L1359.10,712.57 L1364.10,712.47 L1369.10,712.09 L1374.10,711.80 L1380.10,711.47 L1385.10,711.16 L1390.10,710.93 L1395.10,710.48 L1401.10,710.28 L1406.10,710.10 L1411.10,709.82 L1417.10,709.68 L1422.10,709.41 L1427.10,709.22 L1432.10,708.64 L1438.10,707.77 L1443.10,707.39 L1448.10,707.39 L1453.10,708.07 L1459.10,708.91 L1464.10,709.47 L1469.10,710.10 L1474.10,710.62 L1480.10,711.18 L1485.10,711.66 L1490.10,712.21 L1495.10,712.65 L1501.10,712.98 L1506.10,713.24 L1511.10,713.62 L1516.10,713.70 L1522.10,713.94 L1527.10,713.97 L1532.10,714.11 L1538.10,714.21 L1543.10,714.34 L1548.10,714.40 L1553.10,714.48 L1559.10,714.78 L1564.10,715.18 L1569.10,715.41 L1574.10,716.08 L1580.10,716.53 L1585.10,716.91 L1590.10,717.24 L1595.10,717.40 L1601.10,717.62 L1606.10,718.07 L1611.10,718.41 L1616.10,718.76 L1622.10,719.20 L1627.10,719.63 L1632.10,719.90 L1637.10,719.77 L1643.10,719.41 L1648.10,719.13 L1653.10,718.78 L1659.10,718.02 L1664.10,716.91 L1669.10,714.69 L1674.10,712.79 L1680.10,709.86 L1685.10,705.42 L1690.10,698.16 L1695.10,692.24 L1701.10,685.78 L1706.10,679.89 L1711.10,674.23 L1716.10,666.98 L1722.10,657.05 L1727.10,647.73 L1732.10,639.49 L1737.10,631.96 L1743.10,625.08 L1748.10,617.55 L1753.10,609.45 L1758.10,598.29 L1764.10,585.64 L1769.10,569.06 L1774.10,547.47 L1780.10,530.11 L1785.10,512.45" stroke="#4caf50"/><path d="M7.10,697.76 L12.10,697.78 L17.10,698.71 L23.10,699.37 L28.10,700.30 L33.10,701.30 L38.10,702.59 L44.10,703.08 L49.10,703.83 L54.10,703.78 L59.10,703.62 L65.10,704.24 L70.10,704.72 L75.10,705.10 L80.10,705.48 L86.10,705.82 L91.10,706.35 L96.10,707.18 L101.10,708.03 L107.10,708.63 L112.10,709.36 L117.10,710.37 L122.10,711.60 L128.10,712.64 L133.10,713.74 L138.10,714.20 L143.10,714.72 L149.10,715.37 L154.10,715.61 L159.10,716.43 L165.10,717.34 L170.10,718.08 L175.10,718.65 L180.10,718.97 L186.10,719.64 L191.10,720.10 L196.10,720.61 L201.10,720.95 L207.10,721.10 L212.10,721.09 L217.10,721.12 L222.10,721.07 L228.10,720.90 L233.10,720.94 L238.10,720.67 L243.10,719.93 L249.10,719.06 L254.10,718.74 L259.10,718.21 L264.10,717.64 L270.10,717.14 L275.10,717.06 L280.10,717.11 L286.10,717.35 L291.10,717.22 L296.10,717.12 L301.10,716.93 L307.10,715.95 L312.10,715.38 L317.10,714.54 L322.10,713.44 L328.10,711.49 L333.10,710.14 L338.10,708.41 L343.10,708.15 L349.10,707.45 L354.10,706.42 L359.10,705.72 L364.10,705.04 L370.10,704.73 L375.10,701.89 L380.10,700.16 L385.10,698.42 L391.10,697.38 L396.10,697.35 L401.10,697.82 L407.10,697.83 L412.10,697.34 L417.10,698.15 L422.10,698.35 L428.10,697.90 L433.10,698.12 L438.10,698.26 L443.10,697.96 L449.10,697.54 L454.10,697.42 L459.10,697.69 L464.10,697.67 L470.10,697.46 L475.10,697.54 L480.10,697.45 L485.10,697.79 L491.10,698.64 L496.10,699.67 L501.10,700.11 L506.10,700.70 L512.10,701.09 L517.10,701.33 L522.10,701.13 L528.10,701.02 L533.10,700.84 L538.10,700.87 L543.10,702.31 L549.10,705.07 L554.10,706.97 L559.10,708.81 L564.10,710.63 L570.10,712.26 L575.10,713.54 L580.10,714.71 L585.10,715.20 L591.10,715.76 L596.10,715.54 L601.10,715.61 L606.10,716.13 L612.10,716.64 L617.10,717.04 L622.10,717.66 L627.10,718.34 L633.10,718.82 L638.10,719.62 L643.10,719.88 L649.10,720.15 L654.10,720.07 L659.10,719.99 L664.10,720.06 L670.10,719.83 L675.10,720.00 L680.10,720.31 L685.10,720.51 L691.10,721.11 L696.10,721.54 L701.10,722.09 L706.10,722.48 L712.10,722.94 L717.10,722.86 L722.10,722.91 L727.10,722.77 L733.10,722.71 L738.10,722.96 L743.10,722.54 L748.10,722.18 L754.10,722.10 L759.10,721.91 L764.10,721.62 L769.10,721.24 L775.10,721.17 L780.10,720.94 L785.10,720.93 L791.10,720.96 L796.10,721.14 L801.10,721.30 L806.10,721.44 L812.10,721.73 L817.10,721.76 L822.10,721.68 L827.10,721.62 L833.10,721.70 L838.10,722.24 L843.10,722.92 L848.10,723.34 L854.10,723.75 L859.10,724.55 L864.10,724.98 L869.10,725.67 L875.10,726.33 L880.10,726.59 L885.10,726.85 L890.10,726.80 L896.10,727.07 L901.10,727.22 L906.10,727.52 L912.10,727.75 L917.10,728.02 L922.10,728.43 L927.10,728.93 L933.10,729.30 L938.10,729.79 L943.10,730.12 L948.10,730.42 L954.10,730.73 L959.10,730.94 L964.10,731.13 L969.10,731.11 L975.10,731.51 L980.10,732.60 L985.10,733.78 L990.10,734.28 L996.10,735.39 L1001.10,736.09 L1006.10,736.66 L1011.10,737.12 L1017.10,737.29 L1022.10,736.90 L1027.10,735.48 L1033.10,734.33 L1038.10,732.84 L1043.10,730.60 L1048.10,727.54 L1054.10,726.02 L1059.10,724.51 L1064.10,722.65 L1069.10,720.88 L1075.10,719.08 L1080.10,717.68 L1085.10,715.94 L1090.10,714.86 L1096.10,713.72 L1101.10,712.88 L1106.10,712.04 L1111.10,711.13 L1117.10,709.76 L1122.10,708.63 L1127.10,708.25 L1132.10,708.71 L1138.10,709.17 L1143.10,710.27 L1148.10,712.11 L1154.10,713.28 L1159.10,712.40 L1164.10,711.22 L1169.10,711.03 L1175.10,710.58 L1180.10,711.02 L1185.10,710.95 L1190.10,710.82 L1196.10,710.74 L1201.10,710.97 L1206.10,711.03 L1211.10,711.02 L1217.10,711.08 L1222.10,710.36 L1227.10,709.86 L1232.10,709.28 L1238.10,708.80 L1243.10,708.02 L1248.10,707.32 L1253.10,706.98 L1259.10,706.99 L1264.10,707.56 L1269.10,707.78 L1275.10,708.20 L1280.10,708.51 L1285.10,708.79 L1290.10,709.39 L1296.10,709.52 L1301.10,709.88 L1306.10,710.17 L1311.10,710.71 L1317.10,711.79 L1322.10,712.60 L1327.10,713.31 L1332.10,713.69 L1338.10,714.04 L1343.10,714.55 L1348.10,714.35 L1353.10,713.87 L1359.10,712.94 L1364.10,712.74 L1369.10,712.10 L1374.10,711.64 L1380.10,711.14 L1385.10,710.68 L1390.10,710.34 L1395.10,709.69 L1401.10,709.45 L1406.10,709.23 L1411.10,708.87 L1417.10,708.74 L1422.10,708.39 L1427.10,708.18 L1432.10,707.35 L1438.10,706.09 L1443.10,705.63 L1448.10,705.79 L1453.10,707.01 L1459.10,708.46 L1464.10,709.39 L1469.10,710.39 L1474.10,711.19 L1480.10,712.03 L1485.10,712.72 L1490.10,713.50 L1495.10,714.09 L1501.10,714.47 L1506.10,714.75 L1511.10,715.22 L1516.10,715.20 L1522.10,715.45 L1527.10,715.36 L1532.10,715.46 L1538.10,715.49 L1543.10,715.59 L1548.10,715.57 L1553.10,715.59 L1559.10,715.96 L1564.10,716.49 L1569.10,716.73 L1574.10,717.69 L1580.10,718.25 L1585.10,718.70 L1590.10,719.06 L1595.10,719.15 L1601.10,719.35 L1606.10,719.91 L1611.10,720.28 L1616.10,720.67 L1622.10,721.19 L1627.10,721.70 L1632.10,721.94 L1637.10,721.54 L1643.10,720.80 L1648.10,720.24 L1653.10,719.58 L1659.10,718.29 L1664.10,716.51 L1669.10,713.02 L1674.10,710.14 L1680.10,705.72 L1685.10,699.03 L1690.10,688.06 L1695.10,679.57 L1701.10,670.43 L1706.10,662.47 L1711.10,655.04 L1716.10,645.26 L1722.10,631.42 L1727.10,618.93 L1732.10,608.44 L1737.10,599.28 L1743.10,591.31 L1748.10,582.41 L1753.10,572.72 L1758.10,558.29 L1764.10,541.80 L1769.10,519.41 L1774.10,489.58 L1780.10,467.23 L1785.10,444.84" stroke="#ff5252"/><path d="M7.10,697.71 L12.10,697.74 L17.10,698.71 L23.10,699.41 L28.10,700.38 L33.10,701.42 L38.10,702.76 L44.10,703.26 L49.10,704.02 L54.10,703.96 L59.10,703.77 L65.10,704.40 L70.10,704.89 L75.10,705.28 L80.10,705.65 L86.10,705.99 L91.10,706.53 L96.10,707.39 L101.10,708.26 L107.10,708.86 L112.10,709.61 L117.10,710.64 L122.10,711.91 L128.10,712.96 L133.10,714.08 L138.10,714.53 L143.10,715.05 L149.10,715.69 L154.10,715.91 L159.10,716.75 L165.10,717.67 L170.10,718.42 L175.10,718.98 L180.10,719.28 L186.10,719.96 L191.10,720.40 L196.10,720.92 L201.10,721.24 L207.10,721.37 L212.10,721.33 L217.10,721.34 L222.10,721.27 L228.10,721.07 L233.10,721.09 L238.10,720.80 L243.10,720.01 L249.10,719.09 L254.10,718.75 L259.10,718.19 L264.10,717.60 L270.10,717.08 L275.10,717.01 L280.10,717.06 L286.10,717.31 L291.10,717.18 L296.10,717.09 L301.10,716.89 L307.10,715.87 L312.10,715.27 L317.10,714.41 L322.10,713.26 L328.10,711.24 L333.10,709.85 L338.10,708.07 L343.10,707.82 L349.10,707.12 L354.10,706.08 L359.10,705.38 L364.10,704.69 L370.10,704.41 L375.10,701.46 L380.10,699.69 L385.10,697.91 L391.10,696.87 L396.10,696.89 L401.10,697.42 L407.10,697.47 L412.10,696.99 L417.10,697.87 L422.10,698.11 L428.10,697.66 L433.10,697.92 L438.10,698.08 L443.10,697.78 L449.10,697.36 L454.10,697.25 L459.10,697.55 L464.10,697.54 L470.10,697.34 L475.10,697.43 L480.10,697.35 L485.10,697.72 L491.10,698.61 L496.10,699.70 L501.10,700.15 L506.10,700.77 L512.10,701.17 L517.10,701.41 L522.10,701.19 L528.10,701.07 L533.10,700.88 L538.10,700.91 L543.10,702.41 L549.10,705.29 L554.10,707.26 L559.10,709.16 L564.10,711.04 L570.10,712.70 L575.10,714.01 L580.10,715.19 L585.10,715.66 L591.10,716.19 L596.10,715.93 L601.10,715.96 L606.10,716.47 L612.10,716.98 L617.10,717.36 L622.10,717.98 L627.10,718.66 L633.10,719.13 L638.10,719.94 L643.10,720.18 L649.10,720.44 L654.10,720.32 L659.10,720.22 L664.10,720.27 L670.10,720.01 L675.10,720.17 L680.10,720.48 L685.10,720.67 L691.10,721.28 L696.10,721.72 L701.10,722.28 L706.10,722.66 L712.10,723.13 L717.10,723.04 L722.10,723.07 L727.10,722.90 L733.10,722.83 L738.10,723.08 L743.10,722.62 L748.10,722.24 L754.10,722.15 L759.10,721.95 L764.10,721.64 L769.10,721.24 L775.10,721.16 L780.10,720.93 L785.10,720.92 L791.10,720.95 L796.10,721.14 L801.10,721.31 L806.10,721.46 L812.10,721.76 L817.10,721.79 L822.10,721.70 L827.10,721.64 L833.10,721.72 L838.10,722.28 L843.10,722.99 L848.10,723.43 L854.10,723.84 L859.10,724.68 L864.10,725.11 L869.10,725.82 L875.10,726.50 L880.10,726.75 L885.10,727.01 L890.10,726.95 L896.10,727.21 L901.10,727.36 L906.10,727.66 L912.10,727.88 L917.10,728.15 L922.10,728.57 L927.10,729.08 L933.10,729.45 L938.10,729.95 L943.10,730.28 L948.10,730.58 L954.10,730.90 L959.10,731.10 L964.10,731.28 L969.10,731.24 L975.10,731.65 L980.10,732.78 L985.10,734.00 L990.10,734.50 L996.10,735.64 L1001.10,736.35 L1006.10,736.92 L1011.10,737.39 L1017.10,737.53 L1022.10,737.10 L1027.10,735.59 L1033.10,734.38 L1038.10,732.81 L1043.10,730.47 L1048.10,727.27 L1054.10,725.70 L1059.10,724.16 L1064.10,722.24 L1069.10,720.43 L1075.10,718.59 L1080.10,717.16 L1085.10,715.39 L1090.10,714.31 L1096.10,713.17 L1101.10,712.35 L1106.10,711.51 L1111.10,710.61 L1117.10,709.23 L1122.10,708.09 L1127.10,707.75 L1132.10,708.28 L1138.10,708.79 L1143.10,709.98 L1148.10,711.94 L1154.10,713.18 L1159.10,712.27 L1164.10,711.04 L1169.10,710.86 L1175.10,710.41 L1180.10,710.88 L1185.10,710.83 L1190.10,710.70 L1196.10,710.62 L1201.10,710.88 L1206.10,710.95 L1211.10,710.95 L1217.10,711.01 L1222.10,710.27 L1227.10,709.76 L1232.10,709.15 L1238.10,708.66 L1243.10,707.87 L1248.10,707.15 L1253.10,706.81 L1259.10,706.83 L1264.10,707.44 L1269.10,707.69 L1275.10,708.13 L1280.10,708.46 L1285.10,708.76 L1290.10,709.40 L1296.10,709.53 L1301.10,709.91 L1306.10,710.20 L1311.10,710.77 L1317.10,711.89 L1322.10,712.74 L1327.10,713.47 L1332.10,713.85 L1338.10,714.20 L1343.10,714.71 L1348.10,714.49 L1353.10,713.98 L1359.10,712.99 L1364.10,712.78 L1369.10,712.11 L1374.10,711.62 L1380.10,711.10 L1385.10,710.62 L1390.10,710.28 L1395.10,709.60 L1401.10,709.35 L1406.10,709.13 L1411.10,708.76 L1417.10,708.63 L1422.10,708.28 L1427.10,708.07 L1432.10,707.21 L1438.10,705.90 L1443.10,705.44 L1448.10,705.63 L1453.10,706.92 L1459.10,708.44 L1464.10,709.42 L1469.10,710.47 L1474.10,711.30 L1480.10,712.17 L1485.10,712.87 L1490.10,713.68 L1495.10,714.28 L1501.10,714.66 L1506.10,714.93 L1511.10,715.41 L1516.10,715.37 L1522.10,715.62 L1527.10,715.51 L1532.10,715.59 L1538.10,715.61 L1543.10,715.71 L1548.10,715.68 L1553.10,715.69 L1559.10,716.06 L1564.10,716.61 L1569.10,716.86 L1574.10,717.84 L1580.10,718.42 L1585.10,718.87 L1590.10,719.23 L1595.10,719.31 L1601.10,719.50 L1606.10,720.07 L1611.10,720.45 L1616.10,720.84 L1622.10,721.37 L1627.10,721.89 L1632.10,722.12 L1637.10,721.69 L1643.10,720.90 L1648.10,720.30 L1653.10,719.60 L1659.10,718.25 L1664.10,716.39 L1669.10,712.74 L1674.10,709.76 L1680.10,705.16 L1685.10,698.20 L1690.10,686.79 L1695.10,678.01 L1701.10,668.59 L1706.10,660.42 L1711.10,652.84 L1716.10,642.80 L1722.10,628.54 L1727.10,615.73 L1732.10,605.04 L1737.10,595.77 L1743.10,587.75 L1748.10,578.77 L1753.10,568.96 L1758.10,554.20 L1764.10,537.32 L1769.10,514.29 L1774.10,483.53 L1780.10,460.68 L1785.10,437.85" stroke="#ff0000"/></g><g clip-path="url(#pane)" shape-rendering="crispEdges" stroke-width="1"><line x1="12.5" y1="693" x2="12.5" y2="696" stroke="#f23645"/><rect x="11" y="696" width="3" height="3" fill="#f23645"/><line x1="17.5" y1="693" x2="17.5" y2="697" stroke="#f23645"/><line x1="17.5" y1="709" x2="17.5" y2="726" stroke="#f23645"/><rect x="16" y="697" width="3" height="12" fill="#f23645"/><line x1="23.5" y1="704" x2="23.5" y2="706" stroke="#089981"/><line x1="23.5" y1="709" x2="23.5" y2="710" stroke="#089981"/><rect x="22.5" y="706.5" width="2" height="2" fill="none" stroke="#089981"/><line x1="28.5" y1="711" x2="28.5" y2="714" stroke="#f23645"/><rect x="27" y="706" width="3" height="5" fill="#f23645"/><rect x="32" y="710" width="3" height="2" fill="#f23645"/><line x1="38.5" y1="710" x2="38.5" y2="711" stroke="#f23645"/><rect x="37" y="711" width="3" height="6" fill="#f23645"/><line x1="44.5" y1="707" x2="44.5" y2="708" stroke="#089981"/><rect x="43.5" y="708.5" width="2" height="7" fill="none" stroke="#089981"/><line x1="49.5" y1="712" x2="49.5" y2="714" stroke="#f23645"/><rect x="48" y="708" width="3" height="4" fill="#f23645"/><line x1="54.5" y1="699" x2="54.5" y2="703" stroke="#089981"/><line x1="54.5" y1="712" x2="54.5" y2="715" stroke="#089981"/><rect x="53.5" y="703.5" width="2" height="8" fill="none" stroke="#089981"/><line x1="59.5" y1="697" x2="59.5" y2="702" stroke="#089981"/><line x1="59.5" y1="704" x2="59.5" y2="706" stroke="#089981"/><rect x="58" y="702" width="3" height="2" fill="#089981"/><line x1="65.5" y1="711" x2="65.5" y2="714" stroke="#f23645"/><rect x="64" y="702" width="3" height="9" fill="#f23645"/><line x1="70.5" y1="708" x2="70.5" y2="710" stroke="#089981"/><line x1="70.5" y1="711" x2="70.5" y2="712" stroke="#089981"/><rect x="69" y="710" width="3" height="1" fill="#089981"/><line x1="75.5" y1="705" x2="75.5" y2="709" stroke="#089981"/><rect x="74" y="709" width="3" height="2" fill="#089981"/><line x1="80.5" y1="705" x2="80.5" y2="708" stroke="#f23645"/><rect x="79" y="708" width="3" height="2" fill="#f23645"/><line x1="86.5" y1="708" x2="86.5" y2="709" stroke="#089981"/><rect x="85" y="709" width="3" height="2" fill="#089981"/><rect x="90" y="710" width="3" height="3" fill="#f23645"/><rect x="95" y="711" width="3" height="6" fill="#f23645"/><line x1="101.5" y1="714" x2="101.5" y2="715" stroke="#f23645"/><line x1="101.5" y1="717" x2="101.5" y2="722" stroke="#f23645"/><rect x="100" y="715" width="3" height="2" fill="#f23645"/><line x1="107.5" y1="714" x2="107.5" y2="715" stroke="#089981"/><rect x="106.5" y="715.5" width="2" height="2" fill="none" stroke="#089981"/><rect x="111" y="715" width="3" height="3" fill="#f23645"/><line x1="117.5" y1="715" x2="117.5" y2="716" stroke="#f23645"/><line x1="117.5" y1="721" x2="117.5" y2="723" stroke="#f23645"/><rect x="116" y="716" width="3" height="5" fill="#f23645"/><line x1="122.5" y1="719" x2="122.5" y2="720" stroke="#f23645"/><line x1="122.5" y1="725" x2="122.5" y2="728" stroke="#f23645"/><rect x="121" y="720" width="3" height="5" fill="#f23645"/><line x1="128.5" y1="722" x2="128.5" y2="723" stroke="#089981"/><rect x="127" y="723" width="3" height="2" fill="#089981"/><rect x="132" y="723" width="3" height="3" fill="#f23645"/><line x1="138.5" y1="718" x2="138.5" y2="719" stroke="#089981"/><rect x="137.5" y="719.5" width="2" height="6" fill="none" stroke="#089981"/><rect x="142" y="719" width="3" height="2" fill="#f23645"/><line x1="149.5" y1="718" x2="149.5" y2="720" stroke="#f23645"/><rect x="148" y="720" width="3" height="3" fill="#f23645"/><line x1="154.5" y1="717" x2="154.5" y2="718" stroke="#089981"/><rect x="153.5" y="718.5" width="2" height="3" fill="none" stroke="#089981"/><line x1="159.5" y1="718" x2="159.5" y2="719" stroke="#f23645"/><rect x="158" y="719" width="3" height="7" fill="#f23645"/><line x1="165.5" y1="727" x2="165.5" y2="730" stroke="#f23645"/><rect x="164" y="724" width="3" height="3" fill="#f23645"/><line x1="170.5" y1="724" x2="170.5" y2="726" stroke="#089981"/><rect x="169" y="726" width="3" height="2" fill="#089981"/><rect x="174.5" y="724.5" width="2" height="2" fill="none" stroke="#089981"/><line x1="180.5" y1="721" x2="180.5" y2="722" stroke="#089981"/><rect x="179.5" y="722.5" width="2" height="3" fill="none" stroke="#089981"/><rect x="185" y="722" width="3" height="5" fill="#f23645"/><line x1="191.5" y1="724" x2="191.5" y2="725" stroke="#089981"/><line x1="191.5" y1="726" x2="191.5" y2="728" stroke="#089981"/><rect x="190" y="725" width="3" height="1" fill="#089981"/><line x1="196.5" y1="724" x2="196.5" y2="725" stroke="#f23645"/><rect x="195" y="725" width="3" height="2" fill="#f23645"/><rect x="200.5" y="724.5" width="2" height="2" fill="none" stroke="#089981"/><line x1="207.5" y1="722" x2="207.5" y2="723" stroke="#089981"/><rect x="206" y="723" width="3" height="1" fill="#089981"/><line x1="212.5" y1="720" x2="212.5" y2="721" stroke="#089981"/><rect x="211.5" y="721.5" width="2" height="2" fill="none" stroke="#089981"/><line x1="217.5" y1="720" x2="217.5" y2="721" stroke="#f23645"/><rect x="216" y="721" width="3" height="1" fill="#f23645"/><line x1="222.5" y1="718" x2="222.5" y2="721" stroke="#089981"/><rect x="221" y="721" width="3" height="1" fill="#089981"/><line x1="228.5" y1="718" x2="228.5" y2="719" stroke="#089981"/><line x1="228.5" y1="722" x2="228.5" y2="724" stroke="#089981"/><rect x="227.5" y="719.5" width="2" height="2" fill="none" stroke="#089981"/><line x1="233.5" y1="718" x2="233.5" y2="719" stroke="#f23645"/><line x1="233.5" y1="722" x2="233.5" y2="724" stroke="#f23645"/><rect x="232" y="719" width="3" height="3" fill="#f23645"/><line x1="238.5" y1="717" x2="238.5" y2="718" stroke="#089981"/><rect x="237.5" y="718.5" width="2" height="3" fill="none" stroke="#089981"/><line x1="243.5" y1="708" x2="243.5" y2="712" stroke="#089981"/><rect x="242.5" y="712.5" width="2" height="6" fill="none" stroke="#089981"/><line x1="249.5" y1="708" x2="249.5" y2="710" stroke="#089981"/><line x1="249.5" y1="712" x2="249.5" y2="714" stroke="#089981"/><rect x="248" y="710" width="3" height="2" fill="#089981"/><rect x="253" y="711" width="3" height="6" fill="#f23645"/><line x1="259.5" y1="712" x2="259.5" y2="713" stroke="#089981"/><rect x="258.5" y="713.5" width="2" height="3" fill="none" stroke="#089981"/><rect x="263" y="712" width="3" height="2" fill="#089981"/><line x1="270.5" y1="709" x2="270.5" y2="712" stroke="#089981"/><line x1="270.5" y1="714" x2="270.5" y2="716" stroke="#089981"/><rect x="269" y="712" width="3" height="2" fill="#089981"/><line x1="275.5" y1="717" x2="275.5" y2="719" stroke="#f23645"/><rect x="274" y="712" width="3" height="5" fill="#f23645"/><rect x="279" y="716" width="3" height="3" fill="#f23645"/><line x1="286.5" y1="717" x2="286.5" y2="718" stroke="#f23645"/><rect x="285" y="718" width="3" height="3" fill="#f23645"/><rect x="290.5" y="716.5" width="2" height="3" fill="none" stroke="#089981"/><line x1="296.5" y1="715" x2="296.5" y2="716" stroke="#f23645"/><rect x="295" y="716" width="3" height="1" fill="#f23645"/><line x1="301.5" y1="714" x2="301.5" y2="715" stroke="#089981"/><line x1="301.5" y1="718" x2="301.5" y2="720" stroke="#089981"/><rect x="300.5" y="715.5" width="2" height="2" fill="none" stroke="#089981"/><line x1="307.5" y1="703" x2="307.5" y2="706" stroke="#089981"/><rect x="306.5" y="706.5" width="2" height="10" fill="none" stroke="#089981"/><line x1="312.5" y1="701" x2="312.5" y2="706" stroke="#f23645"/><line x1="312.5" y1="711" x2="312.5" y2="720" stroke="#f23645"/><rect x="311" y="706" width="3" height="5" fill="#f23645"/><line x1="317.5" y1="697" x2="317.5" y2="706" stroke="#089981"/><rect x="316.5" y="706.5" width="2" height="4" fill="none" stroke="#089981"/><rect x="321.5" y="702.5" width="2" height="5" fill="none" stroke="#089981"/><line x1="328.5" y1="691" x2="328.5" y2="692" stroke="#089981"/><rect x="327.5" y="692.5" width="2" height="10" fill="none" stroke="#089981"/><line x1="333.5" y1="698" x2="333.5" y2="706" stroke="#f23645"/><rect x="332" y="692" width="3" height="6" fill="#f23645"/><line x1="338.5" y1="687" x2="338.5" y2="691" stroke="#089981"/><line x1="338.5" y1="698" x2="338.5" y2="699" stroke="#089981"/><rect x="337.5" y="691.5" width="2" height="6" fill="none" stroke="#089981"/><line x1="343.5" y1="686" x2="343.5" y2="691" stroke="#f23645"/><line x1="343.5" y1="707" x2="343.5" y2="719" stroke="#f23645"/><rect x="342" y="691" width="3" height="16" fill="#f23645"/><line x1="349.5" y1="697" x2="349.5" y2="700" stroke="#089981"/><line x1="349.5" y1="707" x2="349.5" y2="709" stroke="#089981"/><rect x="348.5" y="700.5" width="2" height="6" fill="none" stroke="#089981"/><line x1="354.5" y1="693" x2="354.5" y2="696" stroke="#089981"/><rect x="353.5" y="696.5" width="2" height="4" fill="none" stroke="#089981"/><line x1="359.5" y1="695" x2="359.5" y2="696" stroke="#f23645"/><line x1="359.5" y1="700" x2="359.5" y2="702" stroke="#f23645"/><rect x="358" y="696" width="3" height="4" fill="#f23645"/><line x1="364.5" y1="695" x2="364.5" y2="698" stroke="#f23645"/><rect x="363" y="698" width="3" height="1" fill="#f23645"/><line x1="370.5" y1="696" x2="370.5" y2="698" stroke="#f23645"/><rect x="369" y="698" width="3" height="5" fill="#f23645"/><line x1="375.5" y1="668" x2="375.5" y2="674" stroke="#089981"/><line x1="375.5" y1="702" x2="375.5" y2="707" stroke="#089981"/><rect x="374.5" y="674.5" width="2" height="27" fill="none" stroke="#089981"/><line x1="380.5" y1="671" x2="380.5" y2="673" stroke="#f23645"/><line x1="380.5" y1="684" x2="380.5" y2="689" stroke="#f23645"/><rect x="379" y="673" width="3" height="11" fill="#f23645"/><line x1="385.5" y1="678" x2="385.5" y2="681" stroke="#089981"/><line x1="385.5" y1="683" x2="385.5" y2="686" stroke="#089981"/><rect x="384" y="681" width="3" height="2" fill="#089981"/><line x1="391.5" y1="677" x2="391.5" y2="681" stroke="#f23645"/><line x1="391.5" y1="688" x2="391.5" y2="694" stroke="#f23645"/><rect x="390" y="681" width="3" height="7" fill="#f23645"/><line x1="396.5" y1="685" x2="396.5" y2="686" stroke="#f23645"/><line x1="396.5" y1="698" x2="396.5" y2="704" stroke="#f23645"/><rect x="395" y="686" width="3" height="12" fill="#f23645"/><line x1="401.5" y1="692" x2="401.5" y2="695" stroke="#f23645"/><line x1="401.5" y1="703" x2="401.5" y2="705" stroke="#f23645"/><rect x="400" y="695" width="3" height="8" fill="#f23645"/><line x1="407.5" y1="697" x2="407.5" y2="698" stroke="#089981"/><line x1="407.5" y1="703" x2="407.5" y2="706" stroke="#089981"/><rect x="406.5" y="698.5" width="2" height="4" fill="none" stroke="#089981"/><line x1="412.5" y1="686" x2="412.5" y2="692" stroke="#089981"/><line x1="412.5" y1="700" x2="412.5" y2="704" stroke="#089981"/><rect x="411.5" y="692.5" width="2" height="7" fill="none" stroke="#089981"/><line x1="417.5" y1="691" x2="417.5" y2="692" stroke="#f23645"/><line x1="417.5" y1="707" x2="417.5" y2="710" stroke="#f23645"/><rect x="416" y="692" width="3" height="15" fill="#f23645"/><line x1="422.5" y1="698" x2="422.5" y2="700" stroke="#089981"/><line x1="422.5" y1="709" x2="422.5" y2="710" stroke="#089981"/><rect x="421.5" y="700.5" width="2" height="8" fill="none" stroke="#089981"/><line x1="428.5" y1="690" x2="428.5" y2="693" stroke="#089981"/><line x1="428.5" y1="701" x2="428.5" y2="703" stroke="#089981"/><rect x="427.5" y="693.5" width="2" height="7" fill="none" stroke="#089981"/><line x1="433.5" y1="692" x2="433.5" y2="693" stroke="#f23645"/><line x1="433.5" y1="701" x2="433.5" y2="703" stroke="#f23645"/><rect x="432" y="693" width="3" height="8" fill="#f23645"/><line x1="438.5" y1="695" x2="438.5" y2="700" stroke="#089981"/><line x1="438.5" y1="701" x2="438.5" y2="702" stroke="#089981"/><rect x="437" y="700" width="3" height="1" fill="#089981"/><line x1="443.5" y1="694" x2="443.5" y2="695" stroke="#089981"/><rect x="442.5" y="695.5" width="2" height="5" fill="none" stroke="#089981"/><line x1="449.5" y1="688" x2="449.5" y2="693" stroke="#089981"/><rect x="448.5" y="693.5" width="2" height="3" fill="none" stroke="#089981"/><line x1="454.5" y1="690" x2="454.5" y2="693" stroke="#f23645"/><rect x="453" y="693" width="3" height="4" fill="#f23645"/><rect x="458" y="695" width="3" height="6" fill="#f23645"/><line x1="464.5" y1="694" x2="464.5" y2="698" stroke="#089981"/><rect x="463.5" y="698.5" width="2" height="3" fill="none" stroke="#089981"/><line x1="470.5" y1="692" x2="470.5" y2="695" stroke="#089981"/><line x1="470.5" y1="699" x2="470.5" y2="700" stroke="#089981"/><rect x="469.5" y="695.5" width="2" height="3" fill="none" stroke="#089981"/><line x1="475.5" y1="694" x2="475.5" y2="696" stroke="#f23645"/><rect x="474" y="696" width="3" height="3" fill="#f23645"/><line x1="480.5" y1="696" x2="480.5" y2="697" stroke="#089981"/><rect x="479" y="697" width="3" height="2" fill="#089981"/><line x1="485.5" y1="695" x2="485.5" y2="696" stroke="#f23645"/><line x1="485.5" y1="702" x2="485.5" y2="704" stroke="#f23645"/><rect x="484" y="696" width="3" height="6" fill="#f23645"/><line x1="491.5" y1="699" x2="491.5" y2="700" stroke="#f23645"/><rect x="490" y="700" width="3" height="8" fill="#f23645"/><line x1="496.5" y1="704" x2="496.5" y2="706" stroke="#f23645"/><rect x="495" y="706" width="3" height="5" fill="#f23645"/><line x1="501.5" y1="699" x2="501.5" y2="704" stroke="#089981"/><line x1="501.5" y1="710" x2="501.5" y2="712" stroke="#089981"/><rect x="500.5" y="704.5" width="2" height="5" fill="none" stroke="#089981"/><line x1="506.5" y1="704" x2="506.5" y2="705" stroke="#f23645"/><line x1="506.5" y1="708" x2="506.5" y2="710" stroke="#f23645"/><rect x="505" y="705" width="3" height="3" fill="#f23645"/><line x1="512.5" y1="703" x2="512.5" y2="705" stroke="#089981"/><rect x="511" y="705" width="3" height="2" fill="#089981"/><line x1="517.5" y1="702" x2="517.5" y2="704" stroke="#089981"/><rect x="516" y="704" width="3" height="1" fill="#089981"/><line x1="522.5" y1="697" x2="522.5" y2="699" stroke="#089981"/><rect x="521.5" y="699.5" width="2" height="6" fill="none" stroke="#089981"/><line x1="528.5" y1="693" x2="528.5" y2="699" stroke="#f23645"/><line x1="528.5" y1="701" x2="528.5" y2="702" stroke="#f23645"/><rect x="527" y="699" width="3" height="2" fill="#f23645"/><line x1="533.5" y1="698" x2="533.5" y2="699" stroke="#089981"/><line x1="533.5" y1="701" x2="533.5" y2="704" stroke="#089981"/><rect x="532" y="699" width="3" height="2" fill="#089981"/><line x1="538.5" y1="698" x2="538.5" y2="699" stroke="#f23645"/><rect x="537" y="699" width="3" height="3" fill="#f23645"/><line x1="543.5" y1="699" x2="543.5" y2="701" stroke="#f23645"/><line x1="543.5" y1="718" x2="543.5" y2="725" stroke="#f23645"/><rect x="542" y="701" width="3" height="17" fill="#f23645"/><line x1="549.5" y1="734" x2="549.5" y2="745" stroke="#f23645"/><rect x="548" y="716" width="3" height="18" fill="#f23645"/><line x1="554.5" y1="733" x2="554.5" y2="736" stroke="#089981"/><rect x="553.5" y="726.5" width="2" height="6" fill="none" stroke="#089981"/><line x1="559.5" y1="722" x2="559.5" y2="726" stroke="#f23645"/><line x1="559.5" y1="728" x2="559.5" y2="731" stroke="#f23645"/><rect x="558" y="726" width="3" height="2" fill="#f23645"/><line x1="564.5" y1="726" x2="564.5" y2="728" stroke="#f23645"/><line x1="564.5" y1="730" x2="564.5" y2="733" stroke="#f23645"/><rect x="563" y="728" width="3" height="2" fill="#f23645"/><line x1="570.5" y1="725" x2="570.5" y2="728" stroke="#f23645"/><line x1="570.5" y1="729" x2="570.5" y2="734" stroke="#f23645"/><rect x="569" y="728" width="3" height="1" fill="#f23645"/><rect x="574.5" y="726.5" width="2" height="2" fill="none" stroke="#089981"/><line x1="580.5" y1="724" x2="580.5" y2="726" stroke="#089981"/><line x1="580.5" y1="728" x2="580.5" y2="734" stroke="#089981"/><rect x="579" y="726" width="3" height="2" fill="#089981"/><rect x="584.5" y="720.5" width="2" height="6" fill="none" stroke="#089981"/><line x1="591.5" y1="718" x2="591.5" y2="720" stroke="#f23645"/><rect x="590" y="720" width="3" height="2" fill="#f23645"/><line x1="596.5" y1="710" x2="596.5" y2="713" stroke="#089981"/><rect x="595.5" y="713.5" width="2" height="8" fill="none" stroke="#089981"/><rect x="600" y="713" width="3" height="4" fill="#f23645"/><rect x="605" y="716" width="3" height="6" fill="#f23645"/><line x1="612.5" y1="719" x2="612.5" y2="721" stroke="#f23645"/><line x1="612.5" y1="723" x2="612.5" y2="724" stroke="#f23645"/><rect x="611" y="721" width="3" height="2" fill="#f23645"/><line x1="617.5" y1="718" x2="617.5" y2="721" stroke="#089981"/><rect x="616" y="721" width="3" height="2" fill="#089981"/><rect x="621" y="721" width="3" height="4" fill="#f23645"/><line x1="627.5" y1="721" x2="627.5" y2="723" stroke="#f23645"/><rect x="626" y="723" width="3" height="3" fill="#f23645"/><line x1="633.5" y1="723" x2="633.5" y2="724" stroke="#089981"/><rect x="632.5" y="724.5" width="2" height="2" fill="none" stroke="#089981"/><line x1="638.5" y1="722" x2="638.5" y2="723" stroke="#f23645"/><line x1="638.5" y1="729" x2="638.5" y2="730" stroke="#f23645"/><rect x="637" y="723" width="3" height="6" fill="#f23645"/><line x1="643.5" y1="729" x2="643.5" y2="732" stroke="#089981"/><rect x="642.5" y="722.5" width="2" height="6" fill="none" stroke="#089981"/><line x1="649.5" y1="721" x2="649.5" y2="723" stroke="#089981"/><rect x="648" y="723" width="3" height="2" fill="#089981"/><line x1="654.5" y1="718" x2="654.5" y2="719" stroke="#089981"/><rect x="653.5" y="719.5" width="2" height="3" fill="none" stroke="#089981"/><line x1="659.5" y1="717" x2="659.5" y2="718" stroke="#f23645"/><rect x="658" y="718" width="3" height="2" fill="#f23645"/><rect x="663" y="720" width="3" height="2" fill="#f23645"/><line x1="670.5" y1="710" x2="670.5" y2="718" stroke="#089981"/><rect x="669.5" y="718.5" width="2" height="2" fill="none" stroke="#089981"/><line x1="675.5" y1="716" x2="675.5" y2="717" stroke="#f23645"/><rect x="674" y="717" width="3" height="6" fill="#f23645"/><rect x="679" y="720" width="3" height="4" fill="#f23645"/><line x1="685.5" y1="721" x2="685.5" y2="722" stroke="#089981"/><line x1="685.5" y1="724" x2="685.5" y2="725" stroke="#089981"/><rect x="684" y="722" width="3" height="2" fill="#089981"/><rect x="690" y="722" width="3" height="6" fill="#f23645"/><line x1="696.5" y1="725" x2="696.5" y2="726" stroke="#089981"/><rect x="695" y="726" width="3" height="1" fill="#089981"/><rect x="700" y="726" width="3" height="3" fill="#f23645"/><line x1="706.5" y1="724" x2="706.5" y2="726" stroke="#089981"/><line x1="706.5" y1="729" x2="706.5" y2="730" stroke="#089981"/><rect x="705.5" y="726.5" width="2" height="2" fill="none" stroke="#089981"/><line x1="712.5" y1="725" x2="712.5" y2="726" stroke="#f23645"/><rect x="711" y="726" width="3" height="3" fill="#f23645"/><rect x="716.5" y="722.5" width="2" height="6" fill="none" stroke="#089981"/><line x1="722.5" y1="724" x2="722.5" y2="725" stroke="#f23645"/><rect x="721" y="722" width="3" height="2" fill="#f23645"/><line x1="727.5" y1="720" x2="727.5" y2="721" stroke="#089981"/><rect x="726.5" y="721.5" width="2" height="2" fill="none" stroke="#089981"/><rect x="732" y="721" width="3" height="2" fill="#f23645"/><line x1="738.5" y1="721" x2="738.5" y2="722" stroke="#f23645"/><rect x="737" y="722" width="3" height="5" fill="#f23645"/><rect x="742.5" y="718.5" width="2" height="8" fill="none" stroke="#089981"/><line x1="748.5" y1="713" x2="748.5" y2="718" stroke="#f23645"/><rect x="747" y="718" width="3" height="2" fill="#f23645"/><rect x="753" y="718" width="3" height="4" fill="#f23645"/><line x1="759.5" y1="715" x2="759.5" y2="720" stroke="#089981"/><line x1="759.5" y1="722" x2="759.5" y2="726" stroke="#089981"/><rect x="758" y="720" width="3" height="2" fill="#089981"/><line x1="764.5" y1="718" x2="764.5" y2="719" stroke="#089981"/><line x1="764.5" y1="721" x2="764.5" y2="722" stroke="#089981"/><rect x="763" y="719" width="3" height="2" fill="#089981"/><line x1="769.5" y1="717" x2="769.5" y2="718" stroke="#089981"/><rect x="768" y="718" width="3" height="2" fill="#089981"/><line x1="775.5" y1="717" x2="775.5" y2="718" stroke="#f23645"/><rect x="774" y="718" width="3" height="3" fill="#f23645"/><line x1="780.5" y1="718" x2="780.5" y2="719" stroke="#089981"/><rect x="779" y="719" width="3" height="2" fill="#089981"/><line x1="785.5" y1="719" x2="785.5" y2="720" stroke="#f23645"/><rect x="784" y="720" width="3" height="2" fill="#f23645"/><rect x="790" y="720" width="3" height="2" fill="#f23645"/><rect x="795" y="721" width="3" height="3" fill="#f23645"/><rect x="800" y="722" width="3" height="2" fill="#f23645"/><line x1="806.5" y1="722" x2="806.5" y2="723" stroke="#089981"/><rect x="805" y="723" width="3" height="2" fill="#089981"/><line x1="812.5" y1="722" x2="812.5" y2="723" stroke="#f23645"/><rect x="811" y="723" width="3" height="3" fill="#f23645"/><rect x="816.5" y="722.5" width="2" height="3" fill="none" stroke="#089981"/><line x1="822.5" y1="720" x2="822.5" y2="721" stroke="#089981"/><rect x="821" y="721" width="3" height="2" fill="#089981"/><line x1="827.5" y1="719" x2="827.5" y2="720" stroke="#f23645"/><rect x="826" y="720" width="3" height="2" fill="#f23645"/><line x1="833.5" y1="720" x2="833.5" y2="721" stroke="#f23645"/><rect x="832" y="721" width="3" height="2" fill="#f23645"/><line x1="838.5" y1="720" x2="838.5" y2="722" stroke="#f23645"/><line x1="838.5" y1="729" x2="838.5" y2="738" stroke="#f23645"/><rect x="837" y="722" width="3" height="7" fill="#f23645"/><rect x="842" y="727" width="3" height="4" fill="#f23645"/><line x1="848.5" y1="727" x2="848.5" y2="728" stroke="#089981"/><rect x="847.5" y="728.5" width="2" height="2" fill="none" stroke="#089981"/><line x1="854.5" y1="726" x2="854.5" y2="727" stroke="#f23645"/><rect x="853" y="727" width="3" height="2" fill="#f23645"/><rect x="858" y="728" width="3" height="6" fill="#f23645"/><line x1="864.5" y1="727" x2="864.5" y2="729" stroke="#089981"/><rect x="863.5" y="729.5" width="2" height="4" fill="none" stroke="#089981"/><rect x="868" y="729" width="3" height="5" fill="#f23645"/><line x1="875.5" y1="731" x2="875.5" y2="732" stroke="#f23645"/><line x1="875.5" y1="734" x2="875.5" y2="737" stroke="#f23645"/><rect x="874" y="732" width="3" height="2" fill="#f23645"/><line x1="880.5" y1="726" x2="880.5" y2="729" stroke="#089981"/><rect x="879.5" y="729.5" width="2" height="4" fill="none" stroke="#089981"/><line x1="885.5" y1="727" x2="885.5" y2="729" stroke="#f23645"/><rect x="884" y="729" width="3" height="2" fill="#f23645"/><line x1="890.5" y1="722" x2="890.5" y2="726" stroke="#089981"/><rect x="889.5" y="726.5" width="2" height="4" fill="none" stroke="#089981"/><line x1="896.5" y1="725" x2="896.5" y2="726" stroke="#f23645"/><line x1="896.5" y1="731" x2="896.5" y2="734" stroke="#f23645"/><rect x="895" y="726" width="3" height="5" fill="#f23645"/><line x1="901.5" y1="727" x2="901.5" y2="729" stroke="#089981"/><rect x="900" y="729" width="3" height="2" fill="#089981"/><line x1="906.5" y1="726" x2="906.5" y2="729" stroke="#f23645"/><rect x="905" y="729" width="3" height="2" fill="#f23645"/><line x1="912.5" y1="728" x2="912.5" y2="730" stroke="#089981"/><rect x="911" y="730" width="3" height="2" fill="#089981"/><line x1="917.5" y1="729" x2="917.5" y2="730" stroke="#f23645"/><rect x="916" y="730" width="3" height="2" fill="#f23645"/><rect x="921" y="730" width="3" height="4" fill="#f23645"/><line x1="927.5" y1="735" x2="927.5" y2="736" stroke="#f23645"/><rect x="926" y="732" width="3" height="3" fill="#f23645"/><line x1="933.5" y1="732" x2="933.5" y2="733" stroke="#089981"/><rect x="932" y="733" width="3" height="2" fill="#089981"/><line x1="938.5" y1="732" x2="938.5" y2="733" stroke="#f23645"/><rect x="937" y="733" width="3" height="3" fill="#f23645"/><rect x="942" y="733" width="3" height="2" fill="#089981"/><line x1="948.5" y1="732" x2="948.5" y2="733" stroke="#f23645"/><rect x="947" y="733" width="3" height="1" fill="#f23645"/><line x1="954.5" y1="733" x2="954.5" y2="734" stroke="#089981"/><rect x="953" y="734" width="3" height="1" fill="#089981"/><line x1="959.5" y1="732" x2="959.5" y2="733" stroke="#089981"/><rect x="958" y="733" width="3" height="2" fill="#089981"/><line x1="964.5" y1="730" x2="964.5" y2="733" stroke="#089981"/><rect x="963" y="733" width="3" height="2" fill="#089981"/><line x1="969.5" y1="730" x2="969.5" y2="731" stroke="#089981"/><rect x="968.5" y="731.5" width="2" height="2" fill="none" stroke="#089981"/><line x1="975.5" y1="730" x2="975.5" y2="731" stroke="#f23645"/><rect x="974" y="731" width="3" height="6" fill="#f23645"/><line x1="980.5" y1="734" x2="980.5" y2="735" stroke="#f23645"/><rect x="979" y="735" width="3" height="10" fill="#f23645"/><line x1="985.5" y1="747" x2="985.5" y2="755" stroke="#f23645"/><rect x="984" y="743" width="3" height="4" fill="#f23645"/><rect x="989.5" y="739.5" width="2" height="6" fill="none" stroke="#089981"/><rect x="995" y="739" width="3" height="8" fill="#f23645"/><line x1="1001.5" y1="741" x2="1001.5" y2="743" stroke="#089981"/><line x1="1001.5" y1="747" x2="1001.5" y2="750" stroke="#089981"/><rect x="1000.5" y="743.5" width="2" height="3" fill="none" stroke="#089981"/><rect x="1005.5" y="742.5" width="2" height="2" fill="none" stroke="#089981"/><line x1="1011.5" y1="741" x2="1011.5" y2="742" stroke="#089981"/><rect x="1010" y="742" width="3" height="1" fill="#089981"/><line x1="1017.5" y1="738" x2="1017.5" y2="739" stroke="#089981"/><rect x="1016.5" y="739.5" width="2" height="3" fill="none" stroke="#089981"/><line x1="1022.5" y1="732" x2="1022.5" y2="733" stroke="#089981"/><rect x="1021.5" y="733.5" width="2" height="6" fill="none" stroke="#089981"/><line x1="1027.5" y1="711" x2="1027.5" y2="721" stroke="#089981"/><rect x="1026.5" y="721.5" width="2" height="12" fill="none" stroke="#089981"/><line x1="1033.5" y1="717" x2="1033.5" y2="720" stroke="#f23645"/><rect x="1032" y="720" width="3" height="4" fill="#f23645"/><line x1="1038.5" y1="717" x2="1038.5" y2="718" stroke="#089981"/><rect x="1037.5" y="718.5" width="2" height="4" fill="none" stroke="#089981"/><line x1="1043.5" y1="704" x2="1043.5" y2="708" stroke="#089981"/><rect x="1042.5" y="708.5" width="2" height="11" fill="none" stroke="#089981"/><line x1="1048.5" y1="694" x2="1048.5" y2="697" stroke="#089981"/><rect x="1047.5" y="697.5" width="2" height="12" fill="none" stroke="#089981"/><line x1="1054.5" y1="694" x2="1054.5" y2="696" stroke="#f23645"/><line x1="1054.5" y1="712" x2="1054.5" y2="713" stroke="#f23645"/><rect x="1053" y="696" width="3" height="16" fill="#f23645"/><line x1="1059.5" y1="706" x2="1059.5" y2="710" stroke="#089981"/><line x1="1059.5" y1="711" x2="1059.5" y2="717" stroke="#089981"/><rect x="1058" y="710" width="3" height="1" fill="#089981"/><line x1="1064.5" y1="702" x2="1064.5" y2="704" stroke="#089981"/><rect x="1063.5" y="704.5" width="2" height="6" fill="none" stroke="#089981"/><line x1="1069.5" y1="701" x2="1069.5" y2="703" stroke="#089981"/><line x1="1069.5" y1="705" x2="1069.5" y2="709" stroke="#089981"/><rect x="1068" y="703" width="3" height="2" fill="#089981"/><line x1="1075.5" y1="697" x2="1075.5" y2="701" stroke="#089981"/><line x1="1075.5" y1="704" x2="1075.5" y2="705" stroke="#089981"/><rect x="1074.5" y="701.5" width="2" height="2" fill="none" stroke="#089981"/><line x1="1080.5" y1="699" x2="1080.5" y2="701" stroke="#f23645"/><line x1="1080.5" y1="705" x2="1080.5" y2="708" stroke="#f23645"/><rect x="1079" y="701" width="3" height="4" fill="#f23645"/><line x1="1085.5" y1="695" x2="1085.5" y2="699" stroke="#089981"/><rect x="1084.5" y="699.5" width="2" height="5" fill="none" stroke="#089981"/><line x1="1090.5" y1="697" x2="1090.5" y2="699" stroke="#f23645"/><line x1="1090.5" y1="705" x2="1090.5" y2="707" stroke="#f23645"/><rect x="1089" y="699" width="3" height="6" fill="#f23645"/><line x1="1096.5" y1="701" x2="1096.5" y2="702" stroke="#089981"/><line x1="1096.5" y1="704" x2="1096.5" y2="706" stroke="#089981"/><rect x="1095" y="702" width="3" height="2" fill="#089981"/><line x1="1101.5" y1="701" x2="1101.5" y2="702" stroke="#f23645"/><line x1="1101.5" y1="705" x2="1101.5" y2="707" stroke="#f23645"/><rect x="1100" y="702" width="3" height="3" fill="#f23645"/><line x1="1106.5" y1="699" x2="1106.5" y2="704" stroke="#089981"/><rect x="1105" y="704" width="3" height="1" fill="#089981"/><line x1="1111.5" y1="700" x2="1111.5" y2="702" stroke="#089981"/><rect x="1110" y="702" width="3" height="2" fill="#089981"/><line x1="1117.5" y1="694" x2="1117.5" y2="696" stroke="#089981"/><rect x="1116.5" y="696.5" width="2" height="7" fill="none" stroke="#089981"/><line x1="1122.5" y1="689" x2="1122.5" y2="696" stroke="#f23645"/><rect x="1121" y="696" width="3" height="2" fill="#f23645"/><line x1="1127.5" y1="696" x2="1127.5" y2="697" stroke="#f23645"/><line x1="1127.5" y1="705" x2="1127.5" y2="711" stroke="#f23645"/><rect x="1126" y="697" width="3" height="8" fill="#f23645"/><line x1="1132.5" y1="714" x2="1132.5" y2="716" stroke="#f23645"/><rect x="1131" y="704" width="3" height="10" fill="#f23645"/><line x1="1138.5" y1="709" x2="1138.5" y2="713" stroke="#f23645"/><line x1="1138.5" y1="715" x2="1138.5" y2="716" stroke="#f23645"/><rect x="1137" y="713" width="3" height="2" fill="#f23645"/><line x1="1143.5" y1="713" x2="1143.5" y2="714" stroke="#f23645"/><line x1="1143.5" y1="722" x2="1143.5" y2="723" stroke="#f23645"/><rect x="1142" y="714" width="3" height="8" fill="#f23645"/><line x1="1148.5" y1="731" x2="1148.5" y2="743" stroke="#f23645"/><rect x="1147" y="722" width="3" height="9" fill="#f23645"/><line x1="1154.5" y1="722" x2="1154.5" y2="725" stroke="#089981"/><rect x="1153.5" y="725.5" width="2" height="5" fill="none" stroke="#089981"/><line x1="1159.5" y1="693" x2="1159.5" y2="704" stroke="#089981"/><line x1="1159.5" y1="727" x2="1159.5" y2="728" stroke="#089981"/><rect x="1158.5" y="704.5" width="2" height="22" fill="none" stroke="#089981"/><line x1="1164.5" y1="693" x2="1164.5" y2="699" stroke="#089981"/><line x1="1164.5" y1="704" x2="1164.5" y2="707" stroke="#089981"/><rect x="1163.5" y="699.5" width="2" height="4" fill="none" stroke="#089981"/><line x1="1169.5" y1="697" x2="1169.5" y2="699" stroke="#f23645"/><rect x="1168" y="699" width="3" height="11" fill="#f23645"/><line x1="1175.5" y1="702" x2="1175.5" y2="706" stroke="#089981"/><rect x="1174.5" y="706.5" width="2" height="3" fill="none" stroke="#089981"/><line x1="1180.5" y1="705" x2="1180.5" y2="707" stroke="#f23645"/><rect x="1179" y="707" width="3" height="9" fill="#f23645"/><line x1="1185.5" y1="709" x2="1185.5" y2="710" stroke="#089981"/><rect x="1184.5" y="710.5" width="2" height="4" fill="none" stroke="#089981"/><line x1="1190.5" y1="707" x2="1190.5" y2="710" stroke="#089981"/><rect x="1189.5" y="710.5" width="2" height="2" fill="none" stroke="#089981"/><line x1="1196.5" y1="707" x2="1196.5" y2="708" stroke="#f23645"/><rect x="1195" y="708" width="3" height="3" fill="#f23645"/><rect x="1200" y="710" width="3" height="4" fill="#f23645"/><line x1="1206.5" y1="710" x2="1206.5" y2="712" stroke="#089981"/><line x1="1206.5" y1="713" x2="1206.5" y2="714" stroke="#089981"/><rect x="1205" y="712" width="3" height="1" fill="#089981"/><line x1="1211.5" y1="710" x2="1211.5" y2="711" stroke="#089981"/><rect x="1210" y="711" width="3" height="1" fill="#089981"/><line x1="1217.5" y1="707" x2="1217.5" y2="710" stroke="#f23645"/><rect x="1216" y="710" width="3" height="3" fill="#f23645"/><line x1="1222.5" y1="702" x2="1222.5" y2="703" stroke="#089981"/><rect x="1221.5" y="703.5" width="2" height="9" fill="none" stroke="#089981"/><line x1="1227.5" y1="699" x2="1227.5" y2="703" stroke="#f23645"/><rect x="1226" y="703" width="3" height="3" fill="#f23645"/><line x1="1232.5" y1="702" x2="1232.5" y2="703" stroke="#089981"/><rect x="1231" y="703" width="3" height="2" fill="#089981"/><line x1="1238.5" y1="702" x2="1238.5" y2="703" stroke="#f23645"/><rect x="1237" y="703" width="3" height="2" fill="#f23645"/><line x1="1243.5" y1="699" x2="1243.5" y2="700" stroke="#089981"/><rect x="1242.5" y="700.5" width="2" height="4" fill="none" stroke="#089981"/><line x1="1248.5" y1="695" x2="1248.5" y2="700" stroke="#089981"/><rect x="1247" y="700" width="3" height="2" fill="#089981"/><rect x="1252" y="700" width="3" height="5" fill="#f23645"/><line x1="1259.5" y1="702" x2="1259.5" y2="703" stroke="#f23645"/><rect x="1258" y="703" width="3" height="5" fill="#f23645"/><line x1="1264.5" y1="703" x2="1264.5" y2="707" stroke="#f23645"/><rect x="1263" y="707" width="3" height="7" fill="#f23645"/><line x1="1269.5" y1="707" x2="1269.5" y2="710" stroke="#089981"/><line x1="1269.5" y1="712" x2="1269.5" y2="713" stroke="#089981"/><rect x="1268" y="710" width="3" height="2" fill="#089981"/><line x1="1275.5" y1="708" x2="1275.5" y2="710" stroke="#f23645"/><rect x="1274" y="710" width="3" height="3" fill="#f23645"/><line x1="1280.5" y1="711" x2="1280.5" y2="712" stroke="#089981"/><line x1="1280.5" y1="713" x2="1280.5" y2="715" stroke="#089981"/><rect x="1279" y="712" width="3" height="1" fill="#089981"/><line x1="1285.5" y1="710" x2="1285.5" y2="711" stroke="#f23645"/><rect x="1284" y="711" width="3" height="2" fill="#f23645"/><line x1="1290.5" y1="711" x2="1290.5" y2="712" stroke="#f23645"/><rect x="1289" y="712" width="3" height="4" fill="#f23645"/><rect x="1295.5" y="711.5" width="2" height="5" fill="none" stroke="#089981"/><line x1="1301.5" y1="710" x2="1301.5" y2="711" stroke="#f23645"/><rect x="1300" y="711" width="3" height="4" fill="#f23645"/><line x1="1306.5" y1="711" x2="1306.5" y2="713" stroke="#089981"/><line x1="1306.5" y1="715" x2="1306.5" y2="718" stroke="#089981"/><rect x="1305" y="713" width="3" height="2" fill="#089981"/><rect x="1310" y="713" width="3" height="4" fill="#f23645"/><line x1="1317.5" y1="723" x2="1317.5" y2="726" stroke="#f23645"/><rect x="1316" y="716" width="3" height="7" fill="#f23645"/><line x1="1322.5" y1="720" x2="1322.5" y2="721" stroke="#089981"/><rect x="1321" y="721" width="3" height="2" fill="#089981"/><rect x="1326" y="720" width="3" height="2" fill="#089981"/><line x1="1332.5" y1="717" x2="1332.5" y2="718" stroke="#089981"/><rect x="1331.5" y="718.5" width="2" height="2" fill="none" stroke="#089981"/><line x1="1338.5" y1="717" x2="1338.5" y2="718" stroke="#089981"/><rect x="1337" y="718" width="3" height="1" fill="#089981"/><line x1="1343.5" y1="717" x2="1343.5" y2="718" stroke="#f23645"/><rect x="1342" y="718" width="3" height="3" fill="#f23645"/><line x1="1348.5" y1="706" x2="1348.5" y2="712" stroke="#089981"/><rect x="1347.5" y="712.5" width="2" height="8" fill="none" stroke="#089981"/><rect x="1352.5" y="709.5" width="2" height="4" fill="none" stroke="#089981"/><line x1="1359.5" y1="703" x2="1359.5" y2="704" stroke="#089981"/><rect x="1358.5" y="704.5" width="2" height="6" fill="none" stroke="#089981"/><rect x="1363" y="704" width="3" height="8" fill="#f23645"/><line x1="1369.5" y1="705" x2="1369.5" y2="706" stroke="#089981"/><rect x="1368.5" y="706.5" width="2" height="6" fill="none" stroke="#089981"/><line x1="1374.5" y1="705" x2="1374.5" y2="706" stroke="#f23645"/><rect x="1373" y="706" width="3" height="2" fill="#f23645"/><line x1="1380.5" y1="708" x2="1380.5" y2="711" stroke="#089981"/><rect x="1379" y="706" width="3" height="2" fill="#089981"/><line x1="1385.5" y1="704" x2="1385.5" y2="706" stroke="#089981"/><rect x="1384" y="706" width="3" height="2" fill="#089981"/><line x1="1390.5" y1="705" x2="1390.5" y2="706" stroke="#f23645"/><line x1="1390.5" y1="708" x2="1390.5" y2="709" stroke="#f23645"/><rect x="1389" y="706" width="3" height="2" fill="#f23645"/><line x1="1395.5" y1="700" x2="1395.5" y2="703" stroke="#089981"/><rect x="1394.5" y="703.5" width="2" height="4" fill="none" stroke="#089981"/><line x1="1401.5" y1="702" x2="1401.5" y2="703" stroke="#f23645"/><rect x="1400" y="703" width="3" height="5" fill="#f23645"/><line x1="1406.5" y1="704" x2="1406.5" y2="706" stroke="#f23645"/><rect x="1405" y="706" width="3" height="2" fill="#f23645"/><rect x="1410.5" y="705.5" width="2" height="2" fill="none" stroke="#089981"/><line x1="1417.5" y1="704" x2="1417.5" y2="705" stroke="#f23645"/><rect x="1416" y="705" width="3" height="3" fill="#f23645"/><line x1="1422.5" y1="704" x2="1422.5" y2="705" stroke="#089981"/><rect x="1421.5" y="705.5" width="2" height="3" fill="none" stroke="#089981"/><line x1="1427.5" y1="704" x2="1427.5" y2="705" stroke="#f23645"/><rect x="1426" y="705" width="3" height="2" fill="#f23645"/><line x1="1432.5" y1="697" x2="1432.5" y2="699" stroke="#089981"/><rect x="1431.5" y="699.5" width="2" height="8" fill="none" stroke="#089981"/><line x1="1438.5" y1="687" x2="1438.5" y2="694" stroke="#089981"/><rect x="1437.5" y="694.5" width="2" height="7" fill="none" stroke="#089981"/><line x1="1443.5" y1="690" x2="1443.5" y2="693" stroke="#f23645"/><rect x="1442" y="693" width="3" height="9" fill="#f23645"/><line x1="1448.5" y1="695" x2="1448.5" y2="700" stroke="#f23645"/><rect x="1447" y="700" width="3" height="8" fill="#f23645"/><line x1="1453.5" y1="702" x2="1453.5" y2="704" stroke="#f23645"/><rect x="1452" y="704" width="3" height="16" fill="#f23645"/><line x1="1459.5" y1="716" x2="1459.5" y2="718" stroke="#f23645"/><line x1="1459.5" y1="724" x2="1459.5" y2="725" stroke="#f23645"/><rect x="1458" y="718" width="3" height="6" fill="#f23645"/><line x1="1464.5" y1="718" x2="1464.5" y2="719" stroke="#089981"/><rect x="1463.5" y="719.5" width="2" height="3" fill="none" stroke="#089981"/><line x1="1469.5" y1="719" x2="1469.5" y2="720" stroke="#f23645"/><rect x="1468" y="720" width="3" height="1" fill="#f23645"/><line x1="1474.5" y1="718" x2="1474.5" y2="719" stroke="#089981"/><rect x="1473" y="719" width="3" height="2" fill="#089981"/><line x1="1480.5" y1="716" x2="1480.5" y2="719" stroke="#f23645"/><rect x="1479" y="719" width="3" height="2" fill="#f23645"/><line x1="1485.5" y1="718" x2="1485.5" y2="720" stroke="#089981"/><rect x="1484" y="720" width="3" height="1" fill="#089981"/><line x1="1490.5" y1="719" x2="1490.5" y2="720" stroke="#f23645"/><rect x="1489" y="720" width="3" height="2" fill="#f23645"/><line x1="1495.5" y1="716" x2="1495.5" y2="720" stroke="#089981"/><rect x="1494" y="720" width="3" height="2" fill="#089981"/><rect x="1500.5" y="718.5" width="2" height="2" fill="none" stroke="#089981"/><line x1="1506.5" y1="717" x2="1506.5" y2="718" stroke="#089981"/><rect x="1505" y="718" width="3" height="1" fill="#089981"/><line x1="1511.5" y1="717" x2="1511.5" y2="718" stroke="#f23645"/><rect x="1510" y="718" width="3" height="3" fill="#f23645"/><rect x="1515.5" y="715.5" width="2" height="5" fill="none" stroke="#089981"/><rect x="1521" y="714" width="3" height="5" fill="#f23645"/><rect x="1526.5" y="714.5" width="2" height="4" fill="none" stroke="#089981"/><line x1="1532.5" y1="711" x2="1532.5" y2="715" stroke="#f23645"/><rect x="1531" y="715" width="3" height="2" fill="#f23645"/><line x1="1538.5" y1="714" x2="1538.5" y2="716" stroke="#089981"/><rect x="1537" y="716" width="3" height="1" fill="#089981"/><rect x="1542" y="716" width="3" height="2" fill="#f23645"/><line x1="1548.5" y1="717" x2="1548.5" y2="718" stroke="#089981"/><rect x="1547" y="715" width="3" height="2" fill="#089981"/><line x1="1553.5" y1="712" x2="1553.5" y2="715" stroke="#f23645"/><rect x="1552" y="715" width="3" height="2" fill="#f23645"/><rect x="1558" y="716" width="3" height="5" fill="#f23645"/><line x1="1564.5" y1="723" x2="1564.5" y2="724" stroke="#f23645"/><rect x="1563" y="719" width="3" height="4" fill="#f23645"/><rect x="1568.5" y="719.5" width="2" height="3" fill="none" stroke="#089981"/><line x1="1574.5" y1="728" x2="1574.5" y2="730" stroke="#f23645"/><rect x="1573" y="719" width="3" height="9" fill="#f23645"/><line x1="1580.5" y1="723" x2="1580.5" y2="724" stroke="#089981"/><rect x="1579.5" y="724.5" width="2" height="4" fill="none" stroke="#089981"/><rect x="1584" y="723" width="3" height="2" fill="#089981"/><line x1="1590.5" y1="722" x2="1590.5" y2="723" stroke="#089981"/><rect x="1589" y="723" width="3" height="1" fill="#089981"/><rect x="1594.5" y="720.5" width="2" height="3" fill="none" stroke="#089981"/><rect x="1600" y="720" width="3" height="2" fill="#f23645"/><rect x="1605" y="721" width="3" height="6" fill="#f23645"/><line x1="1611.5" y1="721" x2="1611.5" y2="724" stroke="#089981"/><rect x="1610" y="724" width="3" height="2" fill="#089981"/><rect x="1615" y="724" width="3" height="2" fill="#f23645"/><line x1="1622.5" y1="727" x2="1622.5" y2="728" stroke="#f23645"/><rect x="1621" y="724" width="3" height="3" fill="#f23645"/><line x1="1627.5" y1="725" x2="1627.5" y2="726" stroke="#f23645"/><rect x="1626" y="726" width="3" height="2" fill="#f23645"/><line x1="1632.5" y1="722" x2="1632.5" y2="724" stroke="#089981"/><rect x="1631.5" y="724.5" width="2" height="2" fill="none" stroke="#089981"/><line x1="1637.5" y1="716" x2="1637.5" y2="718" stroke="#089981"/><rect x="1636.5" y="718.5" width="2" height="6" fill="none" stroke="#089981"/><line x1="1643.5" y1="708" x2="1643.5" y2="713" stroke="#089981"/><rect x="1642.5" y="713.5" width="2" height="5" fill="none" stroke="#089981"/><line x1="1648.5" y1="712" x2="1648.5" y2="713" stroke="#f23645"/><rect x="1647" y="713" width="3" height="3" fill="#f23645"/><line x1="1653.5" y1="712" x2="1653.5" y2="713" stroke="#089981"/><rect x="1652.5" y="713.5" width="2" height="2" fill="none" stroke="#089981"/><line x1="1659.5" y1="698" x2="1659.5" y2="705" stroke="#089981"/><rect x="1658.5" y="705.5" width="2" height="8" fill="none" stroke="#089981"/><line x1="1664.5" y1="695" x2="1664.5" y2="699" stroke="#089981"/><line x1="1664.5" y1="707" x2="1664.5" y2="710" stroke="#089981"/><rect x="1663.5" y="699.5" width="2" height="7" fill="none" stroke="#089981"/><line x1="1669.5" y1="669" x2="1669.5" y2="678" stroke="#089981"/><line x1="1669.5" y1="700" x2="1669.5" y2="702" stroke="#089981"/><rect x="1668.5" y="678.5" width="2" height="21" fill="none" stroke="#089981"/><line x1="1674.5" y1="667" x2="1674.5" y2="677" stroke="#f23645"/><line x1="1674.5" y1="682" x2="1674.5" y2="693" stroke="#f23645"/><rect x="1673" y="677" width="3" height="5" fill="#f23645"/><line x1="1680.5" y1="643" x2="1680.5" y2="662" stroke="#089981"/><rect x="1679.5" y="662.5" width="2" height="20" fill="none" stroke="#089981"/><line x1="1685.5" y1="624" x2="1685.5" y2="632" stroke="#089981"/><rect x="1684.5" y="632.5" width="2" height="30" fill="none" stroke="#089981"/><line x1="1690.5" y1="555" x2="1690.5" y2="578" stroke="#089981"/><line x1="1690.5" y1="634" x2="1690.5" y2="636" stroke="#089981"/><rect x="1689.5" y="578.5" width="2" height="55" fill="none" stroke="#089981"/><line x1="1695.5" y1="568" x2="1695.5" y2="578" stroke="#f23645"/><line x1="1695.5" y1="596" x2="1695.5" y2="606" stroke="#f23645"/><rect x="1694" y="578" width="3" height="18" fill="#f23645"/><line x1="1701.5" y1="562" x2="1701.5" y2="579" stroke="#089981"/><rect x="1700.5" y="579.5" width="2" height="15" fill="none" stroke="#089981"/><line x1="1706.5" y1="571" x2="1706.5" y2="579" stroke="#f23645"/><line x1="1706.5" y1="584" x2="1706.5" y2="589" stroke="#f23645"/><rect x="1705" y="579" width="3" height="5" fill="#f23645"/><line x1="1711.5" y1="570" x2="1711.5" y2="581" stroke="#089981"/><line x1="1711.5" y1="583" x2="1711.5" y2="592" stroke="#089981"/><rect x="1710" y="581" width="3" height="2" fill="#089981"/><line x1="1716.5" y1="544" x2="1716.5" y2="547" stroke="#089981"/><line x1="1716.5" y1="583" x2="1716.5" y2="587" stroke="#089981"/><rect x="1715.5" y="547.5" width="2" height="35" fill="none" stroke="#089981"/><line x1="1722.5" y1="486" x2="1722.5" y2="493" stroke="#089981"/><rect x="1721.5" y="493.5" width="2" height="55" fill="none" stroke="#089981"/><line x1="1727.5" y1="454" x2="1727.5" y2="493" stroke="#f23645"/><line x1="1727.5" y1="495" x2="1727.5" y2="522" stroke="#f23645"/><rect x="1726" y="493" width="3" height="2" fill="#f23645"/><line x1="1732.5" y1="483" x2="1732.5" y2="494" stroke="#f23645"/><line x1="1732.5" y1="505" x2="1732.5" y2="541" stroke="#f23645"/><rect x="1731" y="494" width="3" height="11" fill="#f23645"/><line x1="1737.5" y1="477" x2="1737.5" y2="502" stroke="#f23645"/><line x1="1737.5" y1="509" x2="1737.5" y2="521" stroke="#f23645"/><rect x="1736" y="502" width="3" height="7" fill="#f23645"/><line x1="1743.5" y1="497" x2="1743.5" y2="507" stroke="#f23645"/><line x1="1743.5" y1="513" x2="1743.5" y2="538" stroke="#f23645"/><rect x="1742" y="507" width="3" height="6" fill="#f23645"/><line x1="1748.5" y1="481" x2="1748.5" y2="493" stroke="#089981"/><line x1="1748.5" y1="513" x2="1748.5" y2="522" stroke="#089981"/><rect x="1747.5" y="493.5" width="2" height="19" fill="none" stroke="#089981"/><line x1="1753.5" y1="475" x2="1753.5" y2="476" stroke="#089981"/><line x1="1753.5" y1="494" x2="1753.5" y2="502" stroke="#089981"/><rect x="1752.5" y="476.5" width="2" height="17" fill="none" stroke="#089981"/><line x1="1758.5" y1="411" x2="1758.5" y2="414" stroke="#089981"/><line x1="1758.5" y1="477" x2="1758.5" y2="480" stroke="#089981"/><rect x="1757.5" y="414.5" width="2" height="62" fill="none" stroke="#089981"/><line x1="1764.5" y1="376" x2="1764.5" y2="377" stroke="#089981"/><line x1="1764.5" y1="415" x2="1764.5" y2="423" stroke="#089981"/><rect x="1763.5" y="377.5" width="2" height="37" fill="none" stroke="#089981"/><line x1="1769.5" y1="281" x2="1769.5" y2="296" stroke="#089981"/><line x1="1769.5" y1="379" x2="1769.5" y2="403" stroke="#089981"/><rect x="1768.5" y="296.5" width="2" height="82" fill="none" stroke="#089981"/><line x1="1774.5" y1="156" x2="1774.5" y2="191" stroke="#089981"/><line x1="1774.5" y1="297" x2="1774.5" y2="315" stroke="#089981"/><rect x="1773.5" y="191.5" width="2" height="105" fill="none" stroke="#089981"/><line x1="1780.5" y1="149" x2="1780.5" y2="192" stroke="#f23645"/><line x1="1780.5" y1="245" x2="1780.5" y2="314" stroke="#f23645"/><rect x="1779" y="192" width="3" height="53" fill="#f23645"/><line x1="1785.5" y1="209" x2="1785.5" y2="221" stroke="#089981"/><line x1="1785.5" y1="244" x2="1785.5" y2="246" stroke="#089981"/><rect x="1784.5" y="221.5" width="2" height="22" fill="none" stroke="#089981"/></g><g clip-path="url(#pane)"><g fill-opacity="0.8"><path d="M196.0,692.6 L204.3,700.9 L196.0,709.1999999999999 L187.7,700.9 Z" fill="#00e676"/></g><circle cx="196.0" cy="713.1999999999999" r="4.1" fill="#00e676" fill-opacity="0.8"/><g fill-opacity="0.8"><path d="M595.7,678.3000000000001 L604.0,686.6 L595.7,694.9 L587.4000000000001,686.6 Z" fill="#00e676"/></g><circle cx="595.7" cy="698.9" r="4.1" fill="#00e676" fill-opacity="0.8"/><g fill-opacity="0.8"><path d="M648.5,689.4000000000001 L656.8,697.7 L648.5,706.0 L640.2,697.7 Z" fill="#00e676"/></g><circle cx="648.5" cy="710.0" r="4.1" fill="#00e676" fill-opacity="0.8"/><g fill-opacity="0.8"><path d="M895.5,693.2 L903.8,701.5 L895.5,709.8 L887.2,701.5 Z" fill="#00e676"/></g><circle cx="895.5" cy="713.8" r="4.1" fill="#00e676" fill-opacity="0.8"/><g fill-opacity="0.8"><path d="M969.4,698.3000000000001 L977.6999999999999,706.6 L969.4,714.9 L961.1,706.6 Z" fill="#00e676"/></g><circle cx="969.4" cy="718.9" r="4.1" fill="#00e676" fill-opacity="0.8"/><g fill-opacity="0.8"><path d="M1016.6,706.2 L1024.9,714.5 L1016.6,722.8 L1008.3000000000001,714.5 Z" fill="#00e676"/></g><circle cx="1016.6" cy="726.8" r="4.1" fill="#00e676" fill-opacity="0.8"/><path d="M14.700000000000001,673.4 L29.9,688.6 M29.9,673.4 L14.700000000000001,688.6" stroke="#ffe93b" stroke-width="2" fill="none"/><path d="M22.3,688.6 L26.8,693.1 L22.3,697.6 L17.8,693.1 Z" fill="#ff5a5e"/><path d="M298.79999999999995,672.6999999999999 L314.0,687.9 M314.0,672.6999999999999 L298.79999999999995,687.9" stroke="#ffe93b" stroke-width="2" fill="none"/><g fill-opacity="0.85"><path d="M306.4,687.9 L310.9,692.4 L306.4,696.9 L301.9,692.4 Z" fill="#00e676"/></g><path d="M1035.3000000000002,673.3 L1050.5,688.5 M1050.5,673.3 L1035.3000000000002,688.5" stroke="#ffe93b" stroke-width="2" fill="none"/><g fill-opacity="0.85"><path d="M1042.9,688.5 L1047.4,693.0 L1042.9,697.5 L1038.4,693.0 Z" fill="#00e676"/></g><path d="M1308.8000000000002,684.9 L1324.0,700.1 M1324.0,684.9 L1308.8000000000002,700.1" stroke="#ffe93b" stroke-width="2" fill="none"/><path d="M1316.4,700.1 L1320.9,704.6 L1316.4,709.1 L1311.9,704.6 Z" fill="#ff5a5e"/><path d="M1366.8000000000002,673.6999999999999 L1382.0,688.9 M1382.0,673.6999999999999 L1366.8000000000002,688.9" stroke="#ffe93b" stroke-width="2" fill="none"/><g fill-opacity="0.85"><path d="M1374.4,688.9 L1378.9,693.4 L1374.4,697.9 L1369.9,693.4 Z" fill="#00e676"/></g><path d="M1461.4,687.6 L1476.6,702.8000000000001 M1476.6,687.6 L1461.4,702.8000000000001" stroke="#ffe93b" stroke-width="2" fill="none"/><path d="M1469,702.8000000000001 L1473.5,707.3000000000001 L1469,711.8000000000001 L1464.5,707.3000000000001 Z" fill="#ff5a5e"/><path d="M1656.0,664.1999999999999 L1671.1999999999998,679.4 M1671.1999999999998,664.1999999999999 L1656.0,679.4" stroke="#ffe93b" stroke-width="2" fill="none"/><g fill-opacity="0.85"><path d="M1663.6,679.4 L1668.1,683.9 L1663.6,688.4 L1659.1,683.9 Z" fill="#00e676"/></g></g><line x1="10" y1="149" x2="1808" y2="149" stroke="#70737e" stroke-width="4" stroke-dasharray="4 8"/><line x1="10" y1="755" x2="1810" y2="755" stroke="#70737e" stroke-width="4" stroke-dasharray="4 8"/><line x1="13" y1="221.5" x2="1840" y2="221.5" stroke="#089981" stroke-width="1" stroke-dasharray="1 2" shape-rendering="crispEdges"/><g stroke="#131722" stroke-width="0.2"><text x="1849.0" y="33.65" font-size="12.5" fill="#131722" font-weight="normal" text-anchor="start" textLength="42.4" lengthAdjust="spacingAndGlyphs">3.40000</text><text x="1849.0" y="81.65" font-size="12.5" fill="#131722" font-weight="normal" text-anchor="start" textLength="42.4" lengthAdjust="spacingAndGlyphs">3.20000</text><text x="1849.0" y="129.65" font-size="12.5" fill="#131722" font-weight="normal" text-anchor="start" textLength="42.4" lengthAdjust="spacingAndGlyphs">3.00000</text><text x="1849.0" y="178.65" font-size="12.5" fill="#131722" font-weight="normal" text-anchor="start" textLength="42.4" lengthAdjust="spacingAndGlyphs">2.80000</text><text x="1849.0" y="226.65" font-size="12.5" fill="#131722" font-weight="normal" text-anchor="start" textLength="42.4" lengthAdjust="spacingAndGlyphs">2.60000</text><text x="1849.0" y="274.65" font-size="12.5" fill="#131722" font-weight="normal" text-anchor="start" textLength="42.4" lengthAdjust="spacingAndGlyphs">2.40000</text><text x="1849.0" y="322.65" font-size="12.5" fill="#131722" font-weight="normal" text-anchor="start" textLength="42.4" lengthAdjust="spacingAndGlyphs">2.20000</text><text x="1849.0" y="370.65" font-size="12.5" fill="#131722" font-weight="normal" text-anchor="start" textLength="42.4" lengthAdjust="spacingAndGlyphs">2.00000</text><text x="1849.0" y="418.65" font-size="12.5" fill="#131722" font-weight="normal" text-anchor="start" textLength="42.4" lengthAdjust="spacingAndGlyphs">1.80000</text><text x="1849.0" y="467.65" font-size="12.5" fill="#131722" font-weight="normal" text-anchor="start" textLength="42.4" lengthAdjust="spacingAndGlyphs">1.60000</text><text x="1849.0" y="515.65" font-size="12.5" fill="#131722" font-weight="normal" text-anchor="start" textLength="42.4" lengthAdjust="spacingAndGlyphs">1.40000</text><text x="1849.0" y="563.65" font-size="12.5" fill="#131722" font-weight="normal" text-anchor="start" textLength="42.4" lengthAdjust="spacingAndGlyphs">1.20000</text><text x="1849.0" y="611.65" font-size="12.5" fill="#131722" font-weight="normal" text-anchor="start" textLength="42.4" lengthAdjust="spacingAndGlyphs">1.00000</text><text x="1849.0" y="659.65" font-size="12.5" fill="#131722" font-weight="normal" text-anchor="start" textLength="42.4" lengthAdjust="spacingAndGlyphs">0.80000</text><text x="1849.0" y="707.65" font-size="12.5" fill="#131722" font-weight="normal" text-anchor="start" textLength="42.4" lengthAdjust="spacingAndGlyphs">0.60000</text><text x="1849.0" y="754.85" font-size="12.5" fill="#131722" font-weight="normal" text-anchor="start" textLength="42.4" lengthAdjust="spacingAndGlyphs">0.40000</text><text x="1849.0" y="803.65" font-size="12.5" fill="#131722" font-weight="normal" text-anchor="start" textLength="42.4" lengthAdjust="spacingAndGlyphs">0.20000</text><text x="1849.0" y="851.65" font-size="12.5" fill="#131722" font-weight="normal" text-anchor="start" textLength="49.1" lengthAdjust="spacingAndGlyphs">−0.00000</text></g><g><path d="M1841,141 h54 a2,2 0 0 1 2,2 v13 a2,2 0 0 1 -2,2 h-54 Z" fill="#e3effd"/><text stroke="#131722" stroke-width="0.2" x="1849.2" y="153.9" font-size="12.5" fill="#131722" font-weight="normal" text-anchor="start" textLength="41.8" lengthAdjust="spacingAndGlyphs">2.90550</text><path d="M1840,141 h-30 a2,2 0 0 0 -2,2 v13 a2,2 0 0 0 2,2 h30 Z" fill="#e3effd"/><text x="1812.5" y="152.9" font-size="12.5" fill="#131722" font-weight="normal" text-anchor="start" textLength="23.5" lengthAdjust="spacingAndGlyphs">High</text><path d="M1840,747 h-28 a2,2 0 0 0 -2,2 v13 a2,2 0 0 0 2,2 h28 Z" fill="#e3effd"/><text x="1814" y="759.9" font-size="12.5" fill="#131722" font-weight="normal" text-anchor="start" textLength="21.5" lengthAdjust="spacingAndGlyphs">Low</text><path d="M1841,747 h54 a2,2 0 0 1 2,2 v13 a2,2 0 0 1 -2,2 h-54 Z" fill="#e3effd"/><text stroke="#131722" stroke-width="0.2" x="1849.2" y="759.9" font-size="12.5" fill="#131722" font-weight="normal" text-anchor="start" textLength="41.8" lengthAdjust="spacingAndGlyphs">0.38249</text><path d="M1841,213 h54 a2,2 0 0 1 2,2 v13 a2,2 0 0 1 -2,2 h-54 Z" fill="#089981"/><text stroke="#ffffff" stroke-width="0.25" x="1849.2" y="225.9" font-size="12.5" fill="#ffffff" font-weight="normal" text-anchor="start" textLength="41.8" lengthAdjust="spacingAndGlyphs">2.60654</text><path d="M1841,430 h54 a2,2 0 0 1 2,2 v13 a2,2 0 0 1 -2,2 h-54 Z" fill="#ff0000"/><text stroke="#ffffff" stroke-width="0.25" x="1849.2" y="442.9" font-size="12.5" fill="#ffffff" font-weight="normal" text-anchor="start" textLength="41.8" lengthAdjust="spacingAndGlyphs">1.70346</text><path d="M1841,447 h54 a2,2 0 0 1 2,2 v13 a2,2 0 0 1 -2,2 h-54 Z" fill="#ff5252"/><text stroke="#ffffff" stroke-width="0.25" x="1849.2" y="459.9" font-size="12.5" fill="#ffffff" font-weight="normal" text-anchor="start" textLength="41.8" lengthAdjust="spacingAndGlyphs">1.67442</text><path d="M1841,504 h54 a2,2 0 0 1 2,2 v13 a2,2 0 0 1 -2,2 h-54 Z" fill="#4caf50"/><text stroke="#ffffff" stroke-width="0.25" x="1849.2" y="516.9" font-size="12.5" fill="#ffffff" font-weight="normal" text-anchor="start" textLength="41.8" lengthAdjust="spacingAndGlyphs">1.39331</text><path d="M1841,553 h54 a2,2 0 0 1 2,2 v13 a2,2 0 0 1 -2,2 h-54 Z" fill="#ff6d00"/><text stroke="#ffffff" stroke-width="0.25" x="1849.2" y="565.9" font-size="12.5" fill="#ffffff" font-weight="normal" text-anchor="start" textLength="41.8" lengthAdjust="spacingAndGlyphs">1.19220</text><path d="M1841,570 h54 a2,2 0 0 1 2,2 v13 a2,2 0 0 1 -2,2 h-54 Z" fill="#2196f3"/><text stroke="#ffffff" stroke-width="0.25" x="1849.2" y="582.9" font-size="12.5" fill="#ffffff" font-weight="normal" text-anchor="start" textLength="41.8" lengthAdjust="spacingAndGlyphs">1.14748</text><path d="M1841,610 h54 a2,2 0 0 1 2,2 v13 a2,2 0 0 1 -2,2 h-54 Z" fill="#9c27b0"/><text stroke="#ffffff" stroke-width="0.25" x="1849.2" y="622.9" font-size="12.5" fill="#ffffff" font-weight="normal" text-anchor="start" textLength="41.8" lengthAdjust="spacingAndGlyphs">0.95497</text><path d="M1841,627 h54 a2,2 0 0 1 2,2 v13 a2,2 0 0 1 -2,2 h-54 Z" fill="#00ffff"/><text stroke="#131722" stroke-width="0.2" x="1849.2" y="639.9" font-size="12.5" fill="#131722" font-weight="normal" text-anchor="start" textLength="41.8" lengthAdjust="spacingAndGlyphs">0.91660</text><path d="M1841,660 h54 a2,2 0 0 1 2,2 v13 a2,2 0 0 1 -2,2 h-54 Z" fill="#0000ff"/><text stroke="#ffffff" stroke-width="0.25" x="1849.2" y="672.9" font-size="12.5" fill="#ffffff" font-weight="normal" text-anchor="start" textLength="41.8" lengthAdjust="spacingAndGlyphs">0.74667</text></g><g><text x="169.75" y="907.3" font-size="12.5" fill="#131722" font-weight="bold" text-anchor="middle" textLength="21" lengthAdjust="spacingAndGlyphs">Feb</text><text x="321.75" y="907.3" font-size="12.5" fill="#131722" font-weight="bold" text-anchor="middle" textLength="21" lengthAdjust="spacingAndGlyphs">Mar</text><text x="484.75" y="907.3" font-size="12.5" fill="#131722" font-weight="bold" text-anchor="middle" textLength="21" lengthAdjust="spacingAndGlyphs">Apr</text><text x="642.75" y="907.3" font-size="12.5" fill="#131722" font-weight="bold" text-anchor="middle" textLength="21" lengthAdjust="spacingAndGlyphs">May</text><text x="805.75" y="907.3" font-size="12.5" fill="#131722" font-weight="bold" text-anchor="middle" textLength="21" lengthAdjust="spacingAndGlyphs">Jun</text><text x="963.75" y="907.3" font-size="12.5" fill="#131722" font-weight="bold" text-anchor="middle" textLength="21" lengthAdjust="spacingAndGlyphs">Jul</text><text x="1126.75" y="907.3" font-size="12.5" fill="#131722" font-weight="bold" text-anchor="middle" textLength="21" lengthAdjust="spacingAndGlyphs">Aug</text><text x="1289.75" y="907.3" font-size="12.5" fill="#131722" font-weight="bold" text-anchor="middle" textLength="21" lengthAdjust="spacingAndGlyphs">Sep</text><text x="1447.75" y="907.3" font-size="12.5" fill="#131722" font-weight="bold" text-anchor="middle" textLength="21" lengthAdjust="spacingAndGlyphs">Oct</text><text x="1610.75" y="907.3" font-size="12.5" fill="#131722" font-weight="bold" text-anchor="middle" textLength="21" lengthAdjust="spacingAndGlyphs">Nov</text><text x="1768.75" y="907.3" font-size="12.5" fill="#131722" font-weight="bold" text-anchor="middle" textLength="21" lengthAdjust="spacingAndGlyphs">Dec</text></g><g><text x="17.8" y="17" font-size="13" fill="#131722" font-weight="normal" text-anchor="start" textLength="170.8" lengthAdjust="spacingAndGlyphs">XRP / U.S. Dollar, 1D, BITSTAMP</text><text x="195.5" y="17" font-size="13" fill="#131722" font-weight="normal" text-anchor="start" textLength="7.8" lengthAdjust="spacingAndGlyphs">O</text><text x="204" y="17" font-size="13" fill="#089981" font-weight="normal" text-anchor="start" textLength="41.5" lengthAdjust="spacingAndGlyphs">2.51376</text><text x="253.4" y="17" font-size="13" fill="#131722" font-weight="normal" text-anchor="start" textLength="7.2" lengthAdjust="spacingAndGlyphs">H</text><text x="261.2" y="17" font-size="13" fill="#089981" font-weight="normal" text-anchor="start" textLength="41.6" lengthAdjust="spacingAndGlyphs">2.65808</text><text x="310.6" y="17" font-size="13" fill="#131722" font-weight="normal" text-anchor="start" textLength="5.3" lengthAdjust="spacingAndGlyphs">L</text><text x="316.9" y="17" font-size="13" fill="#089981" font-weight="normal" text-anchor="start" textLength="41.2" lengthAdjust="spacingAndGlyphs">2.50142</text><text x="366" y="17" font-size="13" fill="#131722" font-weight="normal" text-anchor="start" textLength="6.9" lengthAdjust="spacingAndGlyphs">C</text><text x="373.8" y="17" font-size="13" fill="#089981" font-weight="normal" text-anchor="start" textLength="41.2" lengthAdjust="spacingAndGlyphs">2.60654</text><text x="422.9" y="17" font-size="13" fill="#089981" font-weight="normal" text-anchor="start" textLength="97" lengthAdjust="spacingAndGlyphs">+0.09464 (+3.77%)</text></g><g>
<circle cx="1785.5" cy="851.4" r="9.7" fill="#fff" stroke="#9c27b0" stroke-width="1.6"/>
<path d="M1787.6,846 L1789.3,846 L1786.4,850.6 L1789.9,850.6 L1783.4,857 L1782,857 L1784.9,852.6 L1781.2,852.6 L1781.2,851.8 Z" fill="#9c27b0"/>
<g>
<circle cx="1795.7" cy="875.8" r="9.7" fill="#fff" stroke="#f23645" stroke-width="1.5"/>
<clipPath id="f2"><circle cx="1795.7" cy="875.8" r="7.9"/></clipPath>
<g clip-path="url(#f2)"><rect x="1786.7" y="866" width="18" height="20" fill="#f8fbff"/>
<rect x="1786.7" y="867" width="18" height="4.6" fill="#ef4b46"/><rect x="1786.7" y="874.1" width="18" height="3.9" fill="#ef4b46"/><rect x="1786.7" y="880.1" width="18" height="5" fill="#ef4b46"/>
<rect x="1786.7" y="867" width="11.9" height="11" fill="#2a83e6"/>
<g fill="#dbe9fb"><circle cx="1793.3" cy="870.2" r="0.45"/><circle cx="1796.1000000000001" cy="870.2" r="0.45"/><circle cx="1790.5" cy="872.8" r="0.45"/><circle cx="1793.3" cy="872.8" r="0.45"/><circle cx="1796.1000000000001" cy="872.8" r="0.45"/><circle cx="1790.5" cy="875.5" r="0.45"/><circle cx="1793.3" cy="875.5" r="0.45"/><circle cx="1796.1000000000001" cy="875.5" r="0.45"/></g></g>
</g><g>
<circle cx="1784.0" cy="875.8" r="9.7" fill="#fff" stroke="#f23645" stroke-width="1.5"/>
<clipPath id="f1"><circle cx="1784.0" cy="875.8" r="7.9"/></clipPath>
<g clip-path="url(#f1)"><rect x="1775.0" y="866" width="18" height="20" fill="#f8fbff"/>
<rect x="1775.0" y="867" width="18" height="4.6" fill="#ef4b46"/><rect x="1775.0" y="874.1" width="18" height="3.9" fill="#ef4b46"/><rect x="1775.0" y="880.1" width="18" height="5" fill="#ef4b46"/>
<rect x="1775.0" y="867" width="11.9" height="11" fill="#2a83e6"/>
<g fill="#dbe9fb"><circle cx="1781.6" cy="870.2" r="0.45"/><circle cx="1784.4" cy="870.2" r="0.45"/><circle cx="1778.8" cy="872.8" r="0.45"/><circle cx="1781.6" cy="872.8" r="0.45"/><circle cx="1784.4" cy="872.8" r="0.45"/><circle cx="1778.8" cy="875.5" r="0.45"/><circle cx="1781.6" cy="875.5" r="0.45"/><circle cx="1784.4" cy="875.5" r="0.45"/></g></g>
</g>
</g><g fill="#131722">
<path d="M10,929 H17.7 V939 H13.9 V932.8 H10 Z"/>
<circle cx="20.95" cy="931.2" r="1.95"/>
<path d="M25.6,929 H29.7 L25.3,939 H21.2 Z"/>
</g><text x="33.2" y="938.9" font-size="13.2" fill="#131722" font-weight="normal" text-anchor="start" textLength="70" lengthAdjust="spacingAndGlyphs">TradingView</text>
</svg>
</body></html>
